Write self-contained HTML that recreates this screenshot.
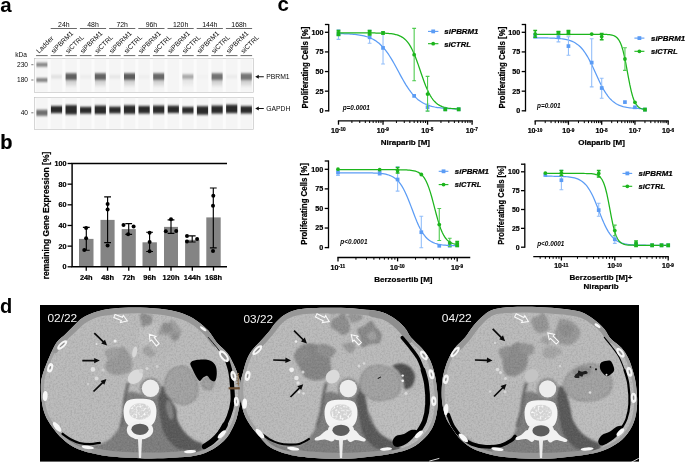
<!DOCTYPE html>
<html><head><meta charset="utf-8"><title>Figure</title>
<style>html,body{margin:0;padding:0;background:#fff;}svg{display:block;}.ct text{stroke:#000;stroke-width:0.22px;}</style></head>
<body><svg style="will-change:transform" width="685" height="463" viewBox="0 0 685 463">
<rect width="685" height="463" fill="#fff"/>
<defs>
<filter id="gb1" x="-5%" y="-20%" width="110%" height="140%"><feGaussianBlur stdDeviation="0.5 1.0"/></filter>
<filter id="gb2" x="-5%" y="-20%" width="110%" height="140%"><feGaussianBlur stdDeviation="0.5 0.95"/></filter>
<linearGradient id="smear" x1="0" y1="0" x2="0" y2="1"><stop offset="0" stop-color="#b5b5b5"/><stop offset="1" stop-color="#b5b5b5" stop-opacity="0"/></linearGradient>
</defs>
<defs>
<clipPath id="panelclip"><rect x="40" y="305" width="599" height="156.6"/></clipPath>
<filter id="ctb1" x="-5%" y="-5%" width="110%" height="110%"><feGaussianBlur stdDeviation="1.1"/></filter>
<filter id="ctb05" x="-5%" y="-5%" width="110%" height="110%"><feGaussianBlur stdDeviation="0.55"/></filter>
<filter id="ctb03" x="-5%" y="-5%" width="110%" height="110%"><feGaussianBlur stdDeviation="0.35"/></filter>
<filter id="ctnoise" x="0" y="0" width="100%" height="100%"><feTurbulence type="fractalNoise" baseFrequency="0.55" numOctaves="2" seed="4" result="n"/><feColorMatrix in="n" type="matrix" values="0 0 0 0 0  0 0 0 0 0  0 0 0 0 0  0.9 0 0 0 -0.36"/><feComposite in2="SourceGraphic" operator="in"/></filter>
<filter id="ctnoise2" x="0" y="0" width="100%" height="100%"><feTurbulence type="fractalNoise" baseFrequency="0.6" numOctaves="2" seed="11" result="n"/><feColorMatrix in="n" type="matrix" values="0 0 0 0 1  0 0 0 0 1  0 0 0 0 1  0.9 0 0 0 -0.36"/><feComposite in2="SourceGraphic" operator="in"/></filter>
<filter id="ctspeck" x="0" y="0" width="100%" height="100%"><feTurbulence type="fractalNoise" baseFrequency="0.5" numOctaves="1" seed="9" result="n"/><feColorMatrix in="n" type="matrix" values="0 0 0 0 1  0 0 0 0 1  0 0 0 0 1  3.2 0 0 0 -1.45"/><feComposite in2="SourceGraphic" operator="in"/></filter>
</defs>
<g id="pa" font-family="Liberation Sans, sans-serif" fill="#0a0a0a">
<text x="0.2" y="11.9" font-size="20.5" font-weight="bold" fill="#000">a</text>
<rect x="34.4" y="58.3" width="219" height="34" fill="#fbfbfb" stroke="#bdbdbd" stroke-width="0.6"/>
<rect x="36.1" y="58.699999999999996" width="11.6" height="33.2" fill="#f5f5f5"/>
<rect x="50.7" y="58.699999999999996" width="11.6" height="33.2" fill="#f5f5f5"/>
<rect x="65.3" y="58.699999999999996" width="11.6" height="33.2" fill="#f5f5f5"/>
<rect x="79.9" y="58.699999999999996" width="11.6" height="33.2" fill="#f5f5f5"/>
<rect x="94.5" y="58.699999999999996" width="11.6" height="33.2" fill="#f5f5f5"/>
<rect x="109.1" y="58.699999999999996" width="11.6" height="33.2" fill="#f5f5f5"/>
<rect x="123.7" y="58.699999999999996" width="11.6" height="33.2" fill="#f5f5f5"/>
<rect x="138.3" y="58.699999999999996" width="11.6" height="33.2" fill="#f5f5f5"/>
<rect x="152.9" y="58.699999999999996" width="11.6" height="33.2" fill="#f5f5f5"/>
<rect x="167.5" y="58.699999999999996" width="11.6" height="33.2" fill="#f5f5f5"/>
<rect x="182.1" y="58.699999999999996" width="11.6" height="33.2" fill="#f5f5f5"/>
<rect x="196.7" y="58.699999999999996" width="11.6" height="33.2" fill="#f5f5f5"/>
<rect x="211.3" y="58.699999999999996" width="11.6" height="33.2" fill="#f5f5f5"/>
<rect x="225.9" y="58.699999999999996" width="11.6" height="33.2" fill="#f5f5f5"/>
<rect x="240.5" y="58.699999999999996" width="11.6" height="33.2" fill="#f5f5f5"/>
<rect x="34.4" y="97.5" width="219" height="31.8" fill="#fbfbfb" stroke="#bdbdbd" stroke-width="0.6"/>
<rect x="36.1" y="97.9" width="11.6" height="31" fill="#f5f5f5"/>
<rect x="50.7" y="97.9" width="11.6" height="31" fill="#f5f5f5"/>
<rect x="65.3" y="97.9" width="11.6" height="31" fill="#f5f5f5"/>
<rect x="79.9" y="97.9" width="11.6" height="31" fill="#f5f5f5"/>
<rect x="94.5" y="97.9" width="11.6" height="31" fill="#f5f5f5"/>
<rect x="109.1" y="97.9" width="11.6" height="31" fill="#f5f5f5"/>
<rect x="123.7" y="97.9" width="11.6" height="31" fill="#f5f5f5"/>
<rect x="138.3" y="97.9" width="11.6" height="31" fill="#f5f5f5"/>
<rect x="152.9" y="97.9" width="11.6" height="31" fill="#f5f5f5"/>
<rect x="167.5" y="97.9" width="11.6" height="31" fill="#f5f5f5"/>
<rect x="182.1" y="97.9" width="11.6" height="31" fill="#f5f5f5"/>
<rect x="196.7" y="97.9" width="11.6" height="31" fill="#f5f5f5"/>
<rect x="211.3" y="97.9" width="11.6" height="31" fill="#f5f5f5"/>
<rect x="225.9" y="97.9" width="11.6" height="31" fill="#f5f5f5"/>
<rect x="240.5" y="97.9" width="11.6" height="31" fill="#f5f5f5"/>
<text x="63.8" y="26.6" font-size="6.9" text-anchor="middle">24h</text>
<line x1="50.7" y1="28.5" x2="76.9" y2="28.5" stroke="#2a2a2a" stroke-width="0.7"/>
<text x="93" y="26.6" font-size="6.9" text-anchor="middle">48h</text>
<line x1="79.9" y1="28.5" x2="106.1" y2="28.5" stroke="#2a2a2a" stroke-width="0.7"/>
<text x="122.2" y="26.6" font-size="6.9" text-anchor="middle">72h</text>
<line x1="109.1" y1="28.5" x2="135.3" y2="28.5" stroke="#2a2a2a" stroke-width="0.7"/>
<text x="151.4" y="26.6" font-size="6.9" text-anchor="middle">96h</text>
<line x1="138.3" y1="28.5" x2="164.5" y2="28.5" stroke="#2a2a2a" stroke-width="0.7"/>
<text x="180.6" y="26.6" font-size="6.9" text-anchor="middle">120h</text>
<line x1="167.5" y1="28.5" x2="193.7" y2="28.5" stroke="#2a2a2a" stroke-width="0.7"/>
<text x="209.8" y="26.6" font-size="6.9" text-anchor="middle">144h</text>
<line x1="196.7" y1="28.5" x2="222.9" y2="28.5" stroke="#2a2a2a" stroke-width="0.7"/>
<text x="239" y="26.6" font-size="6.9" text-anchor="middle">168h</text>
<line x1="225.9" y1="28.5" x2="252.1" y2="28.5" stroke="#2a2a2a" stroke-width="0.7"/>
<line x1="36.1" y1="55.6" x2="47.7" y2="55.6" stroke="#2a2a2a" stroke-width="0.7"/>
<text transform="translate(39.1,53.8) rotate(-45)" font-size="6.8">Ladder</text>
<line x1="50.7" y1="55.6" x2="62.3" y2="55.6" stroke="#2a2a2a" stroke-width="0.7"/>
<text transform="translate(53.7,53.8) rotate(-45)" font-size="6.8">siPBRM1</text>
<line x1="65.3" y1="55.6" x2="76.9" y2="55.6" stroke="#2a2a2a" stroke-width="0.7"/>
<text transform="translate(68.3,53.8) rotate(-45)" font-size="6.8">siCTRL</text>
<line x1="79.9" y1="55.6" x2="91.5" y2="55.6" stroke="#2a2a2a" stroke-width="0.7"/>
<text transform="translate(82.9,53.8) rotate(-45)" font-size="6.8">siPBRM1</text>
<line x1="94.5" y1="55.6" x2="106.1" y2="55.6" stroke="#2a2a2a" stroke-width="0.7"/>
<text transform="translate(97.5,53.8) rotate(-45)" font-size="6.8">siCTRL</text>
<line x1="109.1" y1="55.6" x2="120.7" y2="55.6" stroke="#2a2a2a" stroke-width="0.7"/>
<text transform="translate(112.1,53.8) rotate(-45)" font-size="6.8">siPBRM1</text>
<line x1="123.7" y1="55.6" x2="135.3" y2="55.6" stroke="#2a2a2a" stroke-width="0.7"/>
<text transform="translate(126.7,53.8) rotate(-45)" font-size="6.8">siCTRL</text>
<line x1="138.3" y1="55.6" x2="149.9" y2="55.6" stroke="#2a2a2a" stroke-width="0.7"/>
<text transform="translate(141.3,53.8) rotate(-45)" font-size="6.8">siPBRM1</text>
<line x1="152.9" y1="55.6" x2="164.5" y2="55.6" stroke="#2a2a2a" stroke-width="0.7"/>
<text transform="translate(155.9,53.8) rotate(-45)" font-size="6.8">siCTRL</text>
<line x1="167.5" y1="55.6" x2="179.1" y2="55.6" stroke="#2a2a2a" stroke-width="0.7"/>
<text transform="translate(170.5,53.8) rotate(-45)" font-size="6.8">siPBRM1</text>
<line x1="182.1" y1="55.6" x2="193.7" y2="55.6" stroke="#2a2a2a" stroke-width="0.7"/>
<text transform="translate(185.1,53.8) rotate(-45)" font-size="6.8">siCTRL</text>
<line x1="196.7" y1="55.6" x2="208.3" y2="55.6" stroke="#2a2a2a" stroke-width="0.7"/>
<text transform="translate(199.7,53.8) rotate(-45)" font-size="6.8">siPBRM1</text>
<line x1="211.3" y1="55.6" x2="222.9" y2="55.6" stroke="#2a2a2a" stroke-width="0.7"/>
<text transform="translate(214.3,53.8) rotate(-45)" font-size="6.8">siCTRL</text>
<line x1="225.9" y1="55.6" x2="237.5" y2="55.6" stroke="#2a2a2a" stroke-width="0.7"/>
<text transform="translate(228.9,53.8) rotate(-45)" font-size="6.8">siPBRM1</text>
<line x1="240.5" y1="55.6" x2="252.1" y2="55.6" stroke="#2a2a2a" stroke-width="0.7"/>
<text transform="translate(243.5,53.8) rotate(-45)" font-size="6.8">siCTRL</text>
<text x="15.3" y="56.8" font-size="6.6">kDa</text>
<text x="28.0" y="67.1" font-size="6.6" text-anchor="end">230</text>
<line x1="31.3" y1="64.7" x2="33.4" y2="64.7" stroke="#222" stroke-width="0.6"/>
<text x="28.0" y="82.4" font-size="6.6" text-anchor="end">180</text>
<line x1="31.3" y1="80.0" x2="33.4" y2="80.0" stroke="#222" stroke-width="0.6"/>
<text x="28.0" y="115.2" font-size="6.6" text-anchor="end">40</text>
<line x1="31.3" y1="112.8" x2="33.4" y2="112.8" stroke="#222" stroke-width="0.6"/>
<g filter="url(#gb1)">
<rect x="36.4" y="62.7" width="11.0" height="4" fill="#858585"/>
<rect x="36.4" y="78.0" width="11.0" height="4" fill="#858585"/>
<rect x="36.4" y="109.8" width="11.0" height="6" fill="#6e6e6e"/>
<rect x="51.2" y="74.9" width="10.6" height="3.6" fill="#e0e0e0"/>
<rect x="65.8" y="78" width="10.6" height="10" fill="url(#smear)" opacity="0.95"/>
<rect x="65.6" y="73.3" width="11.0" height="6.6" fill="#5e5e5e"/>
<rect x="80.4" y="74.9" width="10.6" height="3.6" fill="#ececec"/>
<rect x="95" y="78" width="10.6" height="10" fill="url(#smear)" opacity="0.95"/>
<rect x="94.8" y="73.3" width="11.0" height="6.6" fill="#626262"/>
<rect x="109.6" y="74.9" width="10.6" height="3.6" fill="#e6e6e6"/>
<rect x="124.2" y="78" width="10.6" height="10" fill="url(#smear)" opacity="0.95"/>
<rect x="124" y="73.3" width="11.0" height="6.6" fill="#5c5c5c"/>
<rect x="138.8" y="74.9" width="10.6" height="3.6" fill="#eeeeee"/>
<rect x="153.4" y="78" width="10.6" height="10" fill="url(#smear)" opacity="0.95"/>
<rect x="153.2" y="73.3" width="11.0" height="6.6" fill="#686868"/>
<rect x="182.6" y="78" width="10.6" height="10" fill="url(#smear)" opacity="0.35"/>
<rect x="182.4" y="74.4" width="11.0" height="4.4" fill="#a8a8a8"/>
<rect x="197.2" y="74.9" width="10.6" height="3.6" fill="#f1f1f1"/>
<rect x="211.8" y="78" width="10.6" height="10" fill="url(#smear)" opacity="0.95"/>
<rect x="211.6" y="73.3" width="11.0" height="6.6" fill="#727272"/>
<rect x="226.4" y="74.9" width="10.6" height="3.6" fill="#ebebeb"/>
<rect x="241" y="78" width="10.6" height="10" fill="url(#smear)" opacity="0.95"/>
<rect x="240.8" y="73.3" width="11.0" height="6.6" fill="#747474"/>
</g>
<g filter="url(#gb2)">
<rect x="50.9" y="106.02" width="11.2" height="7.08" fill="#2b2b2b"/>
<rect x="65.5" y="105.14" width="11.2" height="9.27" fill="#2b2b2b"/>
<rect x="80.1" y="106.89" width="11.2" height="6.64" fill="#2b2b2b"/>
<rect x="94.7" y="105.58" width="11.2" height="8.4" fill="#2b2b2b"/>
<rect x="109.3" y="106.67" width="11.2" height="6.64" fill="#2b2b2b"/>
<rect x="123.9" y="105.36" width="11.2" height="8.4" fill="#2b2b2b"/>
<rect x="138.5" y="106.02" width="11.2" height="7.52" fill="#2b2b2b"/>
<rect x="153.1" y="105.58" width="11.2" height="7.96" fill="#2b2b2b"/>
<rect x="167.7" y="105.69" width="11.2" height="7.3" fill="#2b2b2b"/>
<rect x="182.3" y="106.89" width="11.2" height="6.64" fill="#2b2b2b"/>
<rect x="196.9" y="106.24" width="11.2" height="8.4" fill="#2b2b2b"/>
<rect x="211.5" y="105.58" width="11.2" height="7.96" fill="#2b2b2b"/>
<rect x="226.1" y="104.7" width="11.2" height="8.4" fill="#2b2b2b"/>
<rect x="240.7" y="106.13" width="11.2" height="7.3" fill="#2b2b2b"/>
</g>
<path d="M255.2 76.7 l3.6 -2.0 v4.0 z M258 76.25 h5.8 v0.9 h-5.8z" fill="#111"/>
<text x="266.2" y="79.1" font-size="6.8">PBRM1</text>
<path d="M255.2 108.5 l3.6 -2.0 v4.0 z M258 108.05 h5.8 v0.9 h-5.8z" fill="#111"/>
<text x="266.2" y="110.9" font-size="6.8">GAPDH</text>
</g>
<g id="pb" class="ct" font-family="Liberation Sans, sans-serif" font-weight="bold" fill="#000">
<text x="0.3" y="149.3" font-size="20">b</text>
<rect x="79.0" y="238.9" width="14.5" height="27.9" fill="#848484"/>
<rect x="100.5" y="219.9" width="14.1" height="46.9" fill="#848484"/>
<rect x="121.7" y="229.1" width="14.1" height="37.7" fill="#848484"/>
<rect x="142.5" y="242.3" width="14.4" height="24.5" fill="#848484"/>
<rect x="164" y="226.9" width="14" height="39.9" fill="#848484"/>
<rect x="185.1" y="239.8" width="14.4" height="27" fill="#848484"/>
<rect x="206.3" y="217.4" width="14.4" height="49.4" fill="#848484"/>
<path d="M86.3 227.3 V250.2 M82.89999999999999 227.3 h6.8 M82.89999999999999 250.2 h6.8" stroke="#000" stroke-width="1.15" fill="none"/>
<path d="M107.6 196.9 V242.6 M104.19999999999999 196.9 h6.8 M104.19999999999999 242.6 h6.8" stroke="#000" stroke-width="1.15" fill="none"/>
<path d="M128.7 223.6 V234.3 M125.29999999999998 223.6 h6.8 M125.29999999999998 234.3 h6.8" stroke="#000" stroke-width="1.15" fill="none"/>
<path d="M149.6 232.2 V251.5 M146.2 232.2 h6.8 M146.2 251.5 h6.8" stroke="#000" stroke-width="1.15" fill="none"/>
<path d="M171 219.9 V233.4 M167.6 219.9 h6.8 M167.6 233.4 h6.8" stroke="#000" stroke-width="1.15" fill="none"/>
<path d="M192.2 235.8 V242 M188.79999999999998 235.8 h6.8 M188.79999999999998 242 h6.8" stroke="#000" stroke-width="1.15" fill="none"/>
<path d="M213.3 188 V247.8 M209.9 188 h6.8 M209.9 247.8 h6.8" stroke="#000" stroke-width="1.15" fill="none"/>
<circle cx="86.1" cy="227.9" r="2.0"/>
<circle cx="86.1" cy="238.3" r="2.0"/>
<circle cx="84.3" cy="249.9" r="2.0"/>
<circle cx="107.6" cy="204" r="2.0"/>
<circle cx="107.6" cy="209.5" r="2.0"/>
<circle cx="107.6" cy="245.6" r="2.0"/>
<circle cx="123.5" cy="225.1" r="2.0"/>
<circle cx="133.6" cy="226.6" r="2.0"/>
<circle cx="128.1" cy="234.3" r="2.0"/>
<circle cx="149.6" cy="232.8" r="2.0"/>
<circle cx="149.6" cy="242" r="2.0"/>
<circle cx="149.6" cy="251.2" r="2.0"/>
<circle cx="171" cy="219.3" r="2.0"/>
<circle cx="165.8" cy="231.2" r="2.0"/>
<circle cx="176.2" cy="230.9" r="2.0"/>
<circle cx="187" cy="236.1" r="2.0"/>
<circle cx="197.1" cy="238.9" r="2.0"/>
<circle cx="187" cy="241.4" r="2.0"/>
<circle cx="213.3" cy="195.7" r="2.0"/>
<circle cx="213" cy="205.8" r="2.0"/>
<circle cx="213" cy="250.9" r="2.0"/>
<path d="M72.1 163.5 H227 M72.1 162.8 V267.5 M71.4 266.8 H227" stroke="#000" stroke-width="1.45" fill="none"/>
<line x1="86.25" x2="86.25" y1="266.8" y2="270.7" stroke="#000" stroke-width="1.3"/>
<line x1="107.55" x2="107.55" y1="266.8" y2="270.7" stroke="#000" stroke-width="1.3"/>
<line x1="128.75" x2="128.75" y1="266.8" y2="270.7" stroke="#000" stroke-width="1.3"/>
<line x1="149.7" x2="149.7" y1="266.8" y2="270.7" stroke="#000" stroke-width="1.3"/>
<line x1="171" x2="171" y1="266.8" y2="270.7" stroke="#000" stroke-width="1.3"/>
<line x1="192.3" x2="192.3" y1="266.8" y2="270.7" stroke="#000" stroke-width="1.3"/>
<line x1="213.5" x2="213.5" y1="266.8" y2="270.7" stroke="#000" stroke-width="1.3"/>
<line x1="67.6" x2="72" y1="266.8" y2="266.8" stroke="#000" stroke-width="1.3"/>
<text x="66.5" y="269.35" font-size="7.2" text-anchor="end">0</text>
<line x1="67.6" x2="72" y1="246.14" y2="246.14" stroke="#000" stroke-width="1.3"/>
<text x="66.5" y="248.69" font-size="7.2" text-anchor="end">20</text>
<line x1="67.6" x2="72" y1="225.48" y2="225.48" stroke="#000" stroke-width="1.3"/>
<text x="66.5" y="228.03" font-size="7.2" text-anchor="end">40</text>
<line x1="67.6" x2="72" y1="204.82" y2="204.82" stroke="#000" stroke-width="1.3"/>
<text x="66.5" y="207.37" font-size="7.2" text-anchor="end">60</text>
<line x1="67.6" x2="72" y1="184.16" y2="184.16" stroke="#000" stroke-width="1.3"/>
<text x="66.5" y="186.71" font-size="7.2" text-anchor="end">80</text>
<line x1="67.6" x2="72" y1="163.5" y2="163.5" stroke="#000" stroke-width="1.3"/>
<text x="66.5" y="166.05" font-size="7.2" text-anchor="end">100</text>
<text x="86.25" y="279.7" font-size="7.4" text-anchor="middle">24h</text>
<text x="107.55" y="279.7" font-size="7.4" text-anchor="middle">48h</text>
<text x="128.75" y="279.7" font-size="7.4" text-anchor="middle">72h</text>
<text x="149.7" y="279.7" font-size="7.4" text-anchor="middle">96h</text>
<text x="171" y="279.7" font-size="7.4" text-anchor="middle">120h</text>
<text x="192.3" y="279.7" font-size="7.4" text-anchor="middle">144h</text>
<text x="213.5" y="279.7" font-size="7.4" text-anchor="middle">168h</text>
<text transform="translate(48.9,215.5) rotate(-90)" font-size="8.3" text-anchor="middle" textLength="127.5" lengthAdjust="spacingAndGlyphs">remaining Gene Expression [%]</text>
</g>
<g id="pc">
<text x="277.6" y="11.4" font-family="Liberation Sans, sans-serif" font-weight="bold" font-size="20.5">c</text>
<g class="ct" font-family="Liberation Sans, sans-serif" font-weight="bold" fill="#000">
<path d="M338.5 33.61 L340 33.65 L341.5 33.68 L343.01 33.73 L344.51 33.78 L346.01 33.84 L347.51 33.91 L349.02 33.99 L350.52 34.09 L352.02 34.19 L353.52 34.32 L355.03 34.46 L356.53 34.63 L358.03 34.82 L359.53 35.04 L361.03 35.3 L362.54 35.59 L364.04 35.93 L365.54 36.32 L367.04 36.76 L368.55 37.27 L370.05 37.85 L371.55 38.51 L373.05 39.26 L374.56 40.1 L376.06 41.06 L377.56 42.14 L379.06 43.35 L380.56 44.7 L382.07 46.19 L383.57 47.83 L385.07 49.64 L386.57 51.6 L388.08 53.72 L389.58 55.98 L391.08 58.39 L392.58 60.92 L394.09 63.55 L395.59 66.26 L397.09 69.03 L398.59 71.82 L400.09 74.6 L401.6 77.35 L403.1 80.03 L404.6 82.63 L406.1 85.11 L407.61 87.45 L409.11 89.66 L410.61 91.71 L412.11 93.61 L413.62 95.35 L415.12 96.93 L416.62 98.36 L418.12 99.64 L419.62 100.8 L421.13 101.82 L422.63 102.74 L424.13 103.54 L425.63 104.25 L427.14 104.88 L428.64 105.42 L430.14 105.9 L431.64 106.32 L433.15 106.69 L434.65 107.01 L436.15 107.28 L437.65 107.52 L439.16 107.73 L440.66 107.91 L442.16 108.07 L443.66 108.21 L445.16 108.32 L446.67 108.43 L448.17 108.51 L449.67 108.59 L451.17 108.66 L452.68 108.71 L454.18 108.76 L455.68 108.8 L457.18 108.84 L458.69 108.87" stroke="#5b9cf5" stroke-width="1.25" fill="none"/>
<path d="M338.5 32.93 L340 32.93 L341.5 32.93 L343.01 32.93 L344.51 32.93 L346.01 32.93 L347.51 32.93 L349.02 32.93 L350.52 32.93 L352.02 32.93 L353.52 32.93 L355.03 32.93 L356.53 32.93 L358.03 32.93 L359.53 32.93 L361.03 32.94 L362.54 32.94 L364.04 32.94 L365.54 32.94 L367.04 32.95 L368.55 32.95 L370.05 32.96 L371.55 32.97 L373.05 32.98 L374.56 32.99 L376.06 33.01 L377.56 33.03 L379.06 33.05 L380.56 33.09 L382.07 33.13 L383.57 33.18 L385.07 33.24 L386.57 33.33 L388.08 33.43 L389.58 33.56 L391.08 33.73 L392.58 33.93 L394.09 34.19 L395.59 34.52 L397.09 34.93 L398.59 35.43 L400.09 36.06 L401.6 36.85 L403.1 37.81 L404.6 38.99 L406.1 40.42 L407.61 42.15 L409.11 44.21 L410.61 46.64 L412.11 49.45 L413.62 52.67 L415.12 56.26 L416.62 60.19 L418.12 64.39 L419.62 68.76 L421.13 73.19 L422.63 77.57 L424.13 81.77 L425.63 85.7 L427.14 89.3 L428.64 92.51 L430.14 95.34 L431.64 97.77 L433.15 99.83 L434.65 101.56 L436.15 103 L437.65 104.18 L439.16 105.15 L440.66 105.93 L442.16 106.56 L443.66 107.07 L445.16 107.48 L446.67 107.8 L448.17 108.06 L449.67 108.27 L451.17 108.44 L452.68 108.57 L454.18 108.67 L455.68 108.76 L457.18 108.82 L458.69 108.87" stroke="#1cb51c" stroke-width="1.25" fill="none"/>
<path d="M338.5 29.9 V39.4 M336.6 29.9 h3.8 M336.6 39.4 h3.8" stroke="#94bffa" stroke-width="1.1" fill="none"/>
<path d="M369.63 30.4 V43.3 M367.73 30.4 h3.8 M367.73 43.3 h3.8" stroke="#94bffa" stroke-width="1.1" fill="none"/>
<path d="M383.03 31.8 V64 M381.13 31.8 h3.8 M381.13 64 h3.8" stroke="#94bffa" stroke-width="1.1" fill="none"/>
<path d="M427.56 104 V111 M425.66 104 h3.8 M425.66 111 h3.8" stroke="#94bffa" stroke-width="1.1" fill="none"/>
<rect x="336.65" y="32.25" width="3.7" height="3.7" fill="#5b9cf5"/>
<rect x="367.78" y="35.45" width="3.7" height="3.7" fill="#5b9cf5"/>
<rect x="381.18" y="46.05" width="3.7" height="3.7" fill="#5b9cf5"/>
<rect x="412.31" y="94.05" width="3.7" height="3.7" fill="#5b9cf5"/>
<rect x="425.71" y="105.45" width="3.7" height="3.7" fill="#5b9cf5"/>
<rect x="443.43" y="107.45" width="3.7" height="3.7" fill="#5b9cf5"/>
<rect x="456.84" y="107.45" width="3.7" height="3.7" fill="#5b9cf5"/>
<path d="M338.5 30.5 V35.5 M336.6 30.5 h3.8 M336.6 35.5 h3.8" stroke="#1cb51c" stroke-width="1.5" fill="none"/>
<path d="M369.63 30.5 V35 M367.73 30.5 h3.8 M367.73 35 h3.8" stroke="#1cb51c" stroke-width="1.5" fill="none"/>
<path d="M414.16 28.4 V80.8 M412.26 28.4 h3.8 M412.26 80.8 h3.8" stroke="#4fcb4f" stroke-width="1.1" fill="none"/>
<path d="M427.56 76.4 V111.1 M425.66 76.4 h3.8 M425.66 111.1 h3.8" stroke="#4fcb4f" stroke-width="1.1" fill="none"/>
<rect x="336.65" y="31.15" width="3.7" height="3.9" fill="#1cb51c"/>
<rect x="367.78" y="30.85" width="3.7" height="3.9" fill="#1cb51c"/>
<rect x="381.18" y="31.05" width="3.7" height="3.9" fill="#1cb51c"/>
<circle cx="414.16" cy="54.7" r="1.9" fill="#1cb51c"/>
<circle cx="427.56" cy="94.1" r="1.9" fill="#1cb51c"/>
<rect x="443.43" y="107.35" width="3.7" height="3.9" fill="#1cb51c"/>
<rect x="456.84" y="107.35" width="3.7" height="3.9" fill="#1cb51c"/>
<path d="M328.7 23.9 V111.45" stroke="#000" stroke-width="1.3" fill="none"/>
<line x1="324.9" x2="328.7" y1="24.5" y2="24.5" stroke="#000" stroke-width="1.3"/>
<line x1="324.9" x2="328.7" y1="110.8" y2="110.8" stroke="#000" stroke-width="1.3"/>
<text x="323.5" y="113.2" font-size="7.2" text-anchor="end">0</text>
<line x1="324.9" x2="328.7" y1="91.17" y2="91.17" stroke="#000" stroke-width="1.3"/>
<text x="323.5" y="93.58" font-size="7.2" text-anchor="end">25</text>
<line x1="324.9" x2="328.7" y1="71.55" y2="71.55" stroke="#000" stroke-width="1.3"/>
<text x="323.5" y="73.95" font-size="7.2" text-anchor="end">50</text>
<line x1="324.9" x2="328.7" y1="51.92" y2="51.92" stroke="#000" stroke-width="1.3"/>
<text x="323.5" y="54.32" font-size="7.2" text-anchor="end">75</text>
<line x1="324.9" x2="328.7" y1="32.3" y2="32.3" stroke="#000" stroke-width="1.3"/>
<text x="323.5" y="34.7" font-size="7.2" text-anchor="end">100</text>
<line x1="337.85" x2="472.75" y1="120.8" y2="120.8" stroke="#000" stroke-width="1.3"/>
<line x1="338.5" x2="338.5" y1="120.8" y2="124.7" stroke="#000" stroke-width="1.3"/>
<text x="338.3" y="133.1" font-size="7.1" text-anchor="middle">10<tspan dy="-1.7" font-size="4.7">-10</tspan></text>
<line x1="351.9" x2="351.9" y1="120.8" y2="123.0" stroke="#000" stroke-width="1.0"/>
<line x1="359.75" x2="359.75" y1="120.8" y2="123.0" stroke="#000" stroke-width="1.0"/>
<line x1="365.31" x2="365.31" y1="120.8" y2="123.0" stroke="#000" stroke-width="1.0"/>
<line x1="369.63" x2="369.63" y1="120.8" y2="123.0" stroke="#000" stroke-width="1.0"/>
<line x1="373.15" x2="373.15" y1="120.8" y2="123.0" stroke="#000" stroke-width="1.0"/>
<line x1="376.13" x2="376.13" y1="120.8" y2="123.0" stroke="#000" stroke-width="1.0"/>
<line x1="378.71" x2="378.71" y1="120.8" y2="123.0" stroke="#000" stroke-width="1.0"/>
<line x1="380.99" x2="380.99" y1="120.8" y2="123.0" stroke="#000" stroke-width="1.0"/>
<line x1="383.03" x2="383.03" y1="120.8" y2="124.7" stroke="#000" stroke-width="1.3"/>
<text x="382.83" y="133.1" font-size="7.1" text-anchor="middle">10<tspan dy="-1.7" font-size="4.7">-9</tspan></text>
<line x1="396.43" x2="396.43" y1="120.8" y2="123.0" stroke="#000" stroke-width="1.0"/>
<line x1="404.28" x2="404.28" y1="120.8" y2="123.0" stroke="#000" stroke-width="1.0"/>
<line x1="409.84" x2="409.84" y1="120.8" y2="123.0" stroke="#000" stroke-width="1.0"/>
<line x1="414.16" x2="414.16" y1="120.8" y2="123.0" stroke="#000" stroke-width="1.0"/>
<line x1="417.68" x2="417.68" y1="120.8" y2="123.0" stroke="#000" stroke-width="1.0"/>
<line x1="420.66" x2="420.66" y1="120.8" y2="123.0" stroke="#000" stroke-width="1.0"/>
<line x1="423.24" x2="423.24" y1="120.8" y2="123.0" stroke="#000" stroke-width="1.0"/>
<line x1="425.52" x2="425.52" y1="120.8" y2="123.0" stroke="#000" stroke-width="1.0"/>
<line x1="427.56" x2="427.56" y1="120.8" y2="124.7" stroke="#000" stroke-width="1.3"/>
<text x="427.36" y="133.1" font-size="7.1" text-anchor="middle">10<tspan dy="-1.7" font-size="4.7">-8</tspan></text>
<line x1="440.96" x2="440.96" y1="120.8" y2="123.0" stroke="#000" stroke-width="1.0"/>
<line x1="448.81" x2="448.81" y1="120.8" y2="123.0" stroke="#000" stroke-width="1.0"/>
<line x1="454.37" x2="454.37" y1="120.8" y2="123.0" stroke="#000" stroke-width="1.0"/>
<line x1="458.69" x2="458.69" y1="120.8" y2="123.0" stroke="#000" stroke-width="1.0"/>
<line x1="462.21" x2="462.21" y1="120.8" y2="123.0" stroke="#000" stroke-width="1.0"/>
<line x1="465.19" x2="465.19" y1="120.8" y2="123.0" stroke="#000" stroke-width="1.0"/>
<line x1="467.77" x2="467.77" y1="120.8" y2="123.0" stroke="#000" stroke-width="1.0"/>
<line x1="470.05" x2="470.05" y1="120.8" y2="123.0" stroke="#000" stroke-width="1.0"/>
<line x1="472.09" x2="472.09" y1="120.8" y2="124.7" stroke="#000" stroke-width="1.3"/>
<text x="471.89" y="133.1" font-size="7.1" text-anchor="middle">10<tspan dy="-1.7" font-size="4.7">-7</tspan></text>
<text x="405.3" y="145.3" font-size="8" text-anchor="middle">Niraparib [M]</text>
<text transform="translate(307.5,67.6) rotate(-90)" font-size="8.4" text-anchor="middle" textLength="81.7" lengthAdjust="spacingAndGlyphs">Proliferating Cells [%]</text>
<line x1="428.0" x2="438.4" y1="31.4" y2="31.4" stroke="#5b9cf5" stroke-width="1.1"/>
<rect x="431.3" y="29.5" width="3.8" height="3.8" fill="#5b9cf5"/>
<text x="444.3" y="34" font-size="7.7" font-style="italic" textLength="34.2" lengthAdjust="spacingAndGlyphs">siPBRM1</text>
<line x1="428.0" x2="438.4" y1="43.7" y2="43.7" stroke="#1cb51c" stroke-width="1.1"/>
<circle cx="433.2" cy="43.7" r="1.9" fill="#1cb51c"/>
<text x="444.3" y="46.5" font-size="7.7" font-style="italic" textLength="26.5" lengthAdjust="spacingAndGlyphs">siCTRL</text>
<text x="342.7" y="109.8" font-size="6.4" font-style="italic" style="stroke:none">p=0.0001</text>
</g>
<g class="ct" font-family="Liberation Sans, sans-serif" font-weight="bold" fill="#000">
<path d="M535.2 37.83 L536.57 37.84 L537.94 37.85 L539.32 37.86 L540.69 37.87 L542.06 37.88 L543.43 37.9 L544.8 37.92 L546.18 37.94 L547.55 37.97 L548.92 38 L550.29 38.04 L551.66 38.09 L553.04 38.14 L554.41 38.21 L555.78 38.28 L557.15 38.37 L558.52 38.48 L559.9 38.6 L561.27 38.75 L562.64 38.93 L564.01 39.14 L565.38 39.38 L566.76 39.67 L568.13 40.01 L569.5 40.41 L570.87 40.87 L572.24 41.42 L573.62 42.05 L574.99 42.79 L576.36 43.65 L577.73 44.63 L579.1 45.76 L580.48 47.06 L581.85 48.52 L583.22 50.18 L584.59 52.02 L585.96 54.07 L587.34 56.31 L588.71 58.75 L590.08 61.36 L591.45 64.12 L592.82 67.02 L594.2 70 L595.57 73.02 L596.94 76.06 L598.31 79.05 L599.68 81.96 L601.06 84.75 L602.43 87.4 L603.8 89.87 L605.17 92.15 L606.54 94.23 L607.92 96.12 L609.29 97.81 L610.66 99.31 L612.03 100.63 L613.4 101.79 L614.78 102.81 L616.15 103.69 L617.52 104.45 L618.89 105.1 L620.26 105.66 L621.64 106.14 L623.01 106.55 L624.38 106.9 L625.75 107.2 L627.12 107.45 L628.5 107.67 L629.87 107.85 L631.24 108 L632.61 108.13 L633.98 108.24 L635.36 108.33 L636.73 108.41 L638.1 108.48 L639.47 108.54 L640.84 108.58 L642.22 108.62 L643.59 108.66 L644.96 108.68" stroke="#5b9cf5" stroke-width="1.25" fill="none"/>
<path d="M535.2 34.26 L536.57 34.26 L537.94 34.26 L539.32 34.26 L540.69 34.26 L542.06 34.26 L543.43 34.26 L544.8 34.26 L546.18 34.26 L547.55 34.26 L548.92 34.26 L550.29 34.26 L551.66 34.26 L553.04 34.26 L554.41 34.26 L555.78 34.26 L557.15 34.26 L558.52 34.26 L559.9 34.26 L561.27 34.26 L562.64 34.26 L564.01 34.26 L565.38 34.26 L566.76 34.26 L568.13 34.26 L569.5 34.26 L570.87 34.26 L572.24 34.26 L573.62 34.26 L574.99 34.26 L576.36 34.26 L577.73 34.26 L579.1 34.26 L580.48 34.26 L581.85 34.26 L583.22 34.26 L584.59 34.26 L585.96 34.26 L587.34 34.26 L588.71 34.26 L590.08 34.26 L591.45 34.26 L592.82 34.27 L594.2 34.27 L595.57 34.27 L596.94 34.27 L598.31 34.28 L599.68 34.29 L601.06 34.3 L602.43 34.31 L603.8 34.34 L605.17 34.38 L606.54 34.44 L607.92 34.52 L609.29 34.65 L610.66 34.83 L612.03 35.11 L613.4 35.51 L614.78 36.11 L616.15 36.99 L617.52 38.25 L618.89 40.06 L620.26 42.59 L621.64 46.04 L623.01 50.58 L624.38 56.25 L625.75 62.95 L627.12 70.33 L628.5 77.84 L629.87 84.92 L631.24 91.12 L632.61 96.2 L633.98 100.15 L635.36 103.1 L636.73 105.23 L638.1 106.74 L639.47 107.79 L640.84 108.5 L642.22 108.99 L643.59 109.33 L644.96 109.55" stroke="#1cb51c" stroke-width="1.25" fill="none"/>
<path d="M535.2 33.4 V38.4 M533.3 33.4 h3.8 M533.3 38.4 h3.8" stroke="#94bffa" stroke-width="1.1" fill="none"/>
<path d="M558.44 33.2 V41.9 M556.54 33.2 h3.8 M556.54 41.9 h3.8" stroke="#94bffa" stroke-width="1.1" fill="none"/>
<path d="M568.45 36.7 V55.3 M566.55 36.7 h3.8 M566.55 55.3 h3.8" stroke="#94bffa" stroke-width="1.1" fill="none"/>
<path d="M591.69 38.8 V86.9 M589.79 38.8 h3.8 M589.79 86.9 h3.8" stroke="#94bffa" stroke-width="1.1" fill="none"/>
<path d="M601.7 78.3 V98.2 M599.8 78.3 h3.8 M599.8 98.2 h3.8" stroke="#94bffa" stroke-width="1.1" fill="none"/>
<rect x="533.35" y="33.95" width="3.7" height="3.7" fill="#5b9cf5"/>
<rect x="556.59" y="35.45" width="3.7" height="3.7" fill="#5b9cf5"/>
<rect x="566.6" y="44.25" width="3.7" height="3.7" fill="#5b9cf5"/>
<rect x="589.84" y="60.75" width="3.7" height="3.7" fill="#5b9cf5"/>
<rect x="599.85" y="86.15" width="3.7" height="3.7" fill="#5b9cf5"/>
<rect x="623.09" y="100.25" width="3.7" height="3.7" fill="#5b9cf5"/>
<rect x="633.1" y="105.45" width="3.7" height="3.7" fill="#5b9cf5"/>
<rect x="643.11" y="107.75" width="3.7" height="3.7" fill="#5b9cf5"/>
<path d="M535.2 30.5 V37.3 M533.3 30.5 h3.8 M533.3 37.3 h3.8" stroke="#1cb51c" stroke-width="1.5" fill="none"/>
<path d="M558.44 31.4 V34.6 M556.54 31.4 h3.8 M556.54 34.6 h3.8" stroke="#1cb51c" stroke-width="1.5" fill="none"/>
<path d="M568.45 30.6 V34.6 M566.55 30.6 h3.8 M566.55 34.6 h3.8" stroke="#1cb51c" stroke-width="1.5" fill="none"/>
<path d="M601.7 33.6 V39.7 M599.8 33.6 h3.8 M599.8 39.7 h3.8" stroke="#1cb51c" stroke-width="1.5" fill="none"/>
<path d="M624.94 47.7 V70.4 M623.04 47.7 h3.8 M623.04 70.4 h3.8" stroke="#4fcb4f" stroke-width="1.1" fill="none"/>
<circle cx="535.2" cy="34.1" r="1.9" fill="#1cb51c"/>
<rect x="556.59" y="31.05" width="3.7" height="3.9" fill="#1cb51c"/>
<rect x="566.6" y="30.55" width="3.7" height="3.9" fill="#1cb51c"/>
<circle cx="591.69" cy="34.1" r="1.9" fill="#1cb51c"/>
<circle cx="601.7" cy="36.6" r="1.9" fill="#1cb51c"/>
<circle cx="624.94" cy="59" r="1.9" fill="#1cb51c"/>
<circle cx="634.95" cy="102.3" r="1.9" fill="#1cb51c"/>
<rect x="643.11" y="107.65" width="3.7" height="3.9" fill="#1cb51c"/>
<path d="M525.5 23.9 V111.45" stroke="#000" stroke-width="1.3" fill="none"/>
<line x1="521.7" x2="525.5" y1="24.5" y2="24.5" stroke="#000" stroke-width="1.3"/>
<line x1="521.7" x2="525.5" y1="110.8" y2="110.8" stroke="#000" stroke-width="1.3"/>
<text x="520.3" y="113.2" font-size="7.2" text-anchor="end">0</text>
<line x1="521.7" x2="525.5" y1="91.17" y2="91.17" stroke="#000" stroke-width="1.3"/>
<text x="520.3" y="93.58" font-size="7.2" text-anchor="end">25</text>
<line x1="521.7" x2="525.5" y1="71.55" y2="71.55" stroke="#000" stroke-width="1.3"/>
<text x="520.3" y="73.95" font-size="7.2" text-anchor="end">50</text>
<line x1="521.7" x2="525.5" y1="51.92" y2="51.92" stroke="#000" stroke-width="1.3"/>
<text x="520.3" y="54.32" font-size="7.2" text-anchor="end">75</text>
<line x1="521.7" x2="525.5" y1="32.3" y2="32.3" stroke="#000" stroke-width="1.3"/>
<text x="520.3" y="34.7" font-size="7.2" text-anchor="end">100</text>
<line x1="534.55" x2="668.85" y1="120.9" y2="120.9" stroke="#000" stroke-width="1.3"/>
<line x1="535.2" x2="535.2" y1="120.9" y2="124.80000000000001" stroke="#000" stroke-width="1.3"/>
<text x="535" y="133.2" font-size="7.1" text-anchor="middle">10<tspan dy="-1.7" font-size="4.7">-10</tspan></text>
<line x1="545.21" x2="545.21" y1="120.9" y2="123.10000000000001" stroke="#000" stroke-width="1.0"/>
<line x1="551.06" x2="551.06" y1="120.9" y2="123.10000000000001" stroke="#000" stroke-width="1.0"/>
<line x1="555.22" x2="555.22" y1="120.9" y2="123.10000000000001" stroke="#000" stroke-width="1.0"/>
<line x1="558.44" x2="558.44" y1="120.9" y2="123.10000000000001" stroke="#000" stroke-width="1.0"/>
<line x1="561.07" x2="561.07" y1="120.9" y2="123.10000000000001" stroke="#000" stroke-width="1.0"/>
<line x1="563.3" x2="563.3" y1="120.9" y2="123.10000000000001" stroke="#000" stroke-width="1.0"/>
<line x1="565.23" x2="565.23" y1="120.9" y2="123.10000000000001" stroke="#000" stroke-width="1.0"/>
<line x1="566.93" x2="566.93" y1="120.9" y2="123.10000000000001" stroke="#000" stroke-width="1.0"/>
<line x1="568.45" x2="568.45" y1="120.9" y2="124.80000000000001" stroke="#000" stroke-width="1.3"/>
<text x="568.25" y="133.2" font-size="7.1" text-anchor="middle">10<tspan dy="-1.7" font-size="4.7">-9</tspan></text>
<line x1="578.46" x2="578.46" y1="120.9" y2="123.10000000000001" stroke="#000" stroke-width="1.0"/>
<line x1="584.31" x2="584.31" y1="120.9" y2="123.10000000000001" stroke="#000" stroke-width="1.0"/>
<line x1="588.47" x2="588.47" y1="120.9" y2="123.10000000000001" stroke="#000" stroke-width="1.0"/>
<line x1="591.69" x2="591.69" y1="120.9" y2="123.10000000000001" stroke="#000" stroke-width="1.0"/>
<line x1="594.32" x2="594.32" y1="120.9" y2="123.10000000000001" stroke="#000" stroke-width="1.0"/>
<line x1="596.55" x2="596.55" y1="120.9" y2="123.10000000000001" stroke="#000" stroke-width="1.0"/>
<line x1="598.48" x2="598.48" y1="120.9" y2="123.10000000000001" stroke="#000" stroke-width="1.0"/>
<line x1="600.18" x2="600.18" y1="120.9" y2="123.10000000000001" stroke="#000" stroke-width="1.0"/>
<line x1="601.7" x2="601.7" y1="120.9" y2="124.80000000000001" stroke="#000" stroke-width="1.3"/>
<text x="601.5" y="133.2" font-size="7.1" text-anchor="middle">10<tspan dy="-1.7" font-size="4.7">-8</tspan></text>
<line x1="611.71" x2="611.71" y1="120.9" y2="123.10000000000001" stroke="#000" stroke-width="1.0"/>
<line x1="617.56" x2="617.56" y1="120.9" y2="123.10000000000001" stroke="#000" stroke-width="1.0"/>
<line x1="621.72" x2="621.72" y1="120.9" y2="123.10000000000001" stroke="#000" stroke-width="1.0"/>
<line x1="624.94" x2="624.94" y1="120.9" y2="123.10000000000001" stroke="#000" stroke-width="1.0"/>
<line x1="627.57" x2="627.57" y1="120.9" y2="123.10000000000001" stroke="#000" stroke-width="1.0"/>
<line x1="629.8" x2="629.8" y1="120.9" y2="123.10000000000001" stroke="#000" stroke-width="1.0"/>
<line x1="631.73" x2="631.73" y1="120.9" y2="123.10000000000001" stroke="#000" stroke-width="1.0"/>
<line x1="633.43" x2="633.43" y1="120.9" y2="123.10000000000001" stroke="#000" stroke-width="1.0"/>
<line x1="634.95" x2="634.95" y1="120.9" y2="124.80000000000001" stroke="#000" stroke-width="1.3"/>
<text x="634.75" y="133.2" font-size="7.1" text-anchor="middle">10<tspan dy="-1.7" font-size="4.7">-7</tspan></text>
<line x1="644.96" x2="644.96" y1="120.9" y2="123.10000000000001" stroke="#000" stroke-width="1.0"/>
<line x1="650.81" x2="650.81" y1="120.9" y2="123.10000000000001" stroke="#000" stroke-width="1.0"/>
<line x1="654.97" x2="654.97" y1="120.9" y2="123.10000000000001" stroke="#000" stroke-width="1.0"/>
<line x1="658.19" x2="658.19" y1="120.9" y2="123.10000000000001" stroke="#000" stroke-width="1.0"/>
<line x1="660.82" x2="660.82" y1="120.9" y2="123.10000000000001" stroke="#000" stroke-width="1.0"/>
<line x1="663.05" x2="663.05" y1="120.9" y2="123.10000000000001" stroke="#000" stroke-width="1.0"/>
<line x1="664.98" x2="664.98" y1="120.9" y2="123.10000000000001" stroke="#000" stroke-width="1.0"/>
<line x1="666.68" x2="666.68" y1="120.9" y2="123.10000000000001" stroke="#000" stroke-width="1.0"/>
<line x1="668.2" x2="668.2" y1="120.9" y2="124.80000000000001" stroke="#000" stroke-width="1.3"/>
<text x="668" y="133.2" font-size="7.1" text-anchor="middle">10<tspan dy="-1.7" font-size="4.7">-6</tspan></text>
<text x="601.6" y="145.3" font-size="8" text-anchor="middle">Olaparib [M]</text>
<text transform="translate(504.5,67.6) rotate(-90)" font-size="8.4" text-anchor="middle" textLength="81.7" lengthAdjust="spacingAndGlyphs">Proliferating Cells [%]</text>
<line x1="634.4" x2="644.4" y1="38.1" y2="38.1" stroke="#5b9cf5" stroke-width="1.1"/>
<rect x="637.5" y="36.2" width="3.8" height="3.8" fill="#5b9cf5"/>
<text x="651.0" y="40.7" font-size="7.7" font-style="italic" textLength="34.2" lengthAdjust="spacingAndGlyphs">siPBRM1</text>
<line x1="634.4" x2="644.4" y1="51.3" y2="51.3" stroke="#1cb51c" stroke-width="1.1"/>
<circle cx="639.4" cy="51.3" r="1.9" fill="#1cb51c"/>
<text x="651.0" y="54.1" font-size="7.7" font-style="italic" textLength="26.5" lengthAdjust="spacingAndGlyphs">siCTRL</text>
<text x="537" y="107.7" font-size="6.4" font-style="italic" style="stroke:none">p=0.001</text>
</g>
<g class="ct" font-family="Liberation Sans, sans-serif" font-weight="bold" fill="#000">
<path d="M338 172.75 L339.49 172.75 L340.98 172.75 L342.47 172.75 L343.96 172.75 L345.45 172.75 L346.94 172.75 L348.43 172.75 L349.92 172.75 L351.41 172.76 L352.9 172.76 L354.39 172.76 L355.88 172.76 L357.37 172.77 L358.86 172.77 L360.35 172.78 L361.84 172.79 L363.33 172.8 L364.82 172.82 L366.31 172.83 L367.8 172.85 L369.29 172.88 L370.78 172.91 L372.27 172.96 L373.76 173.01 L375.25 173.07 L376.74 173.15 L378.23 173.25 L379.72 173.37 L381.21 173.52 L382.7 173.71 L384.19 173.94 L385.68 174.23 L387.17 174.58 L388.66 175.01 L390.15 175.55 L391.64 176.2 L393.13 177 L394.62 177.96 L396.11 179.13 L397.6 180.52 L399.09 182.18 L400.58 184.12 L402.07 186.38 L403.56 188.98 L405.05 191.9 L406.54 195.15 L408.03 198.68 L409.52 202.44 L411.01 206.36 L412.5 210.34 L413.99 214.3 L415.48 218.14 L416.97 221.78 L418.46 225.16 L419.95 228.23 L421.44 230.97 L422.93 233.38 L424.42 235.47 L425.91 237.25 L427.4 238.75 L428.89 240.01 L430.38 241.06 L431.87 241.93 L433.36 242.64 L434.85 243.23 L436.34 243.7 L437.83 244.09 L439.32 244.41 L440.81 244.66 L442.3 244.87 L443.79 245.03 L445.28 245.17 L446.77 245.28 L448.26 245.36 L449.75 245.43 L451.24 245.49 L452.73 245.53 L454.22 245.57 L455.71 245.6 L457.2 245.62" stroke="#5b9cf5" stroke-width="1.25" fill="none"/>
<path d="M338 169.69 L339.49 169.69 L340.98 169.69 L342.47 169.69 L343.96 169.69 L345.45 169.69 L346.94 169.69 L348.43 169.69 L349.92 169.69 L351.41 169.69 L352.9 169.69 L354.39 169.69 L355.88 169.69 L357.37 169.69 L358.86 169.69 L360.35 169.69 L361.84 169.69 L363.33 169.69 L364.82 169.69 L366.31 169.69 L367.8 169.69 L369.29 169.69 L370.78 169.69 L372.27 169.69 L373.76 169.69 L375.25 169.69 L376.74 169.69 L378.23 169.69 L379.72 169.69 L381.21 169.69 L382.7 169.69 L384.19 169.69 L385.68 169.69 L387.17 169.7 L388.66 169.7 L390.15 169.7 L391.64 169.7 L393.13 169.71 L394.62 169.71 L396.11 169.72 L397.6 169.73 L399.09 169.75 L400.58 169.76 L402.07 169.79 L403.56 169.83 L405.05 169.87 L406.54 169.94 L408.03 170.02 L409.52 170.14 L411.01 170.3 L412.5 170.52 L413.99 170.81 L415.48 171.2 L416.97 171.72 L418.46 172.42 L419.95 173.35 L421.44 174.57 L422.93 176.16 L424.42 178.21 L425.91 180.8 L427.4 184.01 L428.89 187.89 L430.38 192.42 L431.87 197.54 L433.36 203.09 L434.85 208.83 L436.34 214.51 L437.83 219.88 L439.32 224.74 L440.81 228.97 L442.3 232.53 L443.79 235.44 L445.28 237.77 L446.77 239.59 L448.26 240.99 L449.75 242.06 L451.24 242.88 L452.73 243.49 L454.22 243.94 L455.71 244.28 L457.2 244.53" stroke="#1cb51c" stroke-width="1.25" fill="none"/>
<path d="M338 170.2 V175.4 M336.1 170.2 h3.8 M336.1 175.4 h3.8" stroke="#94bffa" stroke-width="1.1" fill="none"/>
<path d="M379.66 171 V175.2 M377.76 171 h3.8 M377.76 175.2 h3.8" stroke="#94bffa" stroke-width="1.1" fill="none"/>
<path d="M397.6 166.9 V191.1 M395.7 166.9 h3.8 M395.7 191.1 h3.8" stroke="#94bffa" stroke-width="1.1" fill="none"/>
<path d="M421.32 216.3 V247.7 M419.42 216.3 h3.8 M419.42 247.7 h3.8" stroke="#94bffa" stroke-width="1.1" fill="none"/>
<rect x="336.15" y="170.65" width="3.7" height="3.7" fill="#5b9cf5"/>
<rect x="377.81" y="171.25" width="3.7" height="3.7" fill="#5b9cf5"/>
<rect x="395.75" y="177.65" width="3.7" height="3.7" fill="#5b9cf5"/>
<rect x="419.47" y="230.35" width="3.7" height="3.7" fill="#5b9cf5"/>
<rect x="437.41" y="243.95" width="3.7" height="3.7" fill="#5b9cf5"/>
<rect x="447.9" y="243.95" width="3.7" height="3.7" fill="#5b9cf5"/>
<rect x="455.35" y="243.45" width="3.7" height="3.7" fill="#5b9cf5"/>
<path d="M397.6 167.4 V173.1 M395.7 167.4 h3.8 M395.7 173.1 h3.8" stroke="#1cb51c" stroke-width="1.5" fill="none"/>
<path d="M439.26 208.5 V240.5 M437.36 208.5 h3.8 M437.36 240.5 h3.8" stroke="#4fcb4f" stroke-width="1.1" fill="none"/>
<path d="M449.75 238.2 V246.5 M447.85 238.2 h3.8 M447.85 246.5 h3.8" stroke="#4fcb4f" stroke-width="1.1" fill="none"/>
<path d="M457.2 241.4 V246.6 M455.3 241.4 h3.8 M455.3 246.6 h3.8" stroke="#1cb51c" stroke-width="1.5" fill="none"/>
<circle cx="338" cy="169.2" r="1.9" fill="#1cb51c"/>
<circle cx="379.66" cy="169.7" r="1.9" fill="#1cb51c"/>
<circle cx="397.6" cy="170.4" r="1.9" fill="#1cb51c"/>
<circle cx="421.32" cy="174.5" r="1.9" fill="#1cb51c"/>
<circle cx="439.26" cy="224.6" r="1.9" fill="#1cb51c"/>
<circle cx="449.75" cy="242.9" r="1.9" fill="#1cb51c"/>
<rect x="455.35" y="242.15" width="3.7" height="3.9" fill="#1cb51c"/>
<path d="M328.5 160.4 V248.25" stroke="#000" stroke-width="1.3" fill="none"/>
<line x1="324.7" x2="328.5" y1="161.0" y2="161.0" stroke="#000" stroke-width="1.3"/>
<line x1="324.7" x2="328.5" y1="247.6" y2="247.6" stroke="#000" stroke-width="1.3"/>
<text x="323.3" y="250" font-size="7.2" text-anchor="end">0</text>
<line x1="324.7" x2="328.5" y1="228.03" y2="228.03" stroke="#000" stroke-width="1.3"/>
<text x="323.3" y="230.43" font-size="7.2" text-anchor="end">25</text>
<line x1="324.7" x2="328.5" y1="208.45" y2="208.45" stroke="#000" stroke-width="1.3"/>
<text x="323.3" y="210.85" font-size="7.2" text-anchor="end">50</text>
<line x1="324.7" x2="328.5" y1="188.88" y2="188.88" stroke="#000" stroke-width="1.3"/>
<text x="323.3" y="191.28" font-size="7.2" text-anchor="end">75</text>
<line x1="324.7" x2="328.5" y1="169.3" y2="169.3" stroke="#000" stroke-width="1.3"/>
<text x="323.3" y="171.7" font-size="7.2" text-anchor="end">100</text>
<line x1="337.35" x2="470.25" y1="257.5" y2="257.5" stroke="#000" stroke-width="1.3"/>
<line x1="338" x2="338" y1="257.5" y2="261.4" stroke="#000" stroke-width="1.3"/>
<text x="337.8" y="269.8" font-size="7.1" text-anchor="middle">10<tspan dy="-1.7" font-size="4.7">-11</tspan></text>
<line x1="355.94" x2="355.94" y1="257.5" y2="259.7" stroke="#000" stroke-width="1.0"/>
<line x1="366.44" x2="366.44" y1="257.5" y2="259.7" stroke="#000" stroke-width="1.0"/>
<line x1="373.88" x2="373.88" y1="257.5" y2="259.7" stroke="#000" stroke-width="1.0"/>
<line x1="379.66" x2="379.66" y1="257.5" y2="259.7" stroke="#000" stroke-width="1.0"/>
<line x1="384.38" x2="384.38" y1="257.5" y2="259.7" stroke="#000" stroke-width="1.0"/>
<line x1="388.37" x2="388.37" y1="257.5" y2="259.7" stroke="#000" stroke-width="1.0"/>
<line x1="391.82" x2="391.82" y1="257.5" y2="259.7" stroke="#000" stroke-width="1.0"/>
<line x1="394.87" x2="394.87" y1="257.5" y2="259.7" stroke="#000" stroke-width="1.0"/>
<line x1="397.6" x2="397.6" y1="257.5" y2="261.4" stroke="#000" stroke-width="1.3"/>
<text x="397.4" y="269.8" font-size="7.1" text-anchor="middle">10<tspan dy="-1.7" font-size="4.7">-10</tspan></text>
<line x1="415.54" x2="415.54" y1="257.5" y2="259.7" stroke="#000" stroke-width="1.0"/>
<line x1="426.04" x2="426.04" y1="257.5" y2="259.7" stroke="#000" stroke-width="1.0"/>
<line x1="433.48" x2="433.48" y1="257.5" y2="259.7" stroke="#000" stroke-width="1.0"/>
<line x1="439.26" x2="439.26" y1="257.5" y2="259.7" stroke="#000" stroke-width="1.0"/>
<line x1="443.98" x2="443.98" y1="257.5" y2="259.7" stroke="#000" stroke-width="1.0"/>
<line x1="447.97" x2="447.97" y1="257.5" y2="259.7" stroke="#000" stroke-width="1.0"/>
<line x1="451.42" x2="451.42" y1="257.5" y2="259.7" stroke="#000" stroke-width="1.0"/>
<line x1="454.47" x2="454.47" y1="257.5" y2="259.7" stroke="#000" stroke-width="1.0"/>
<line x1="457.2" x2="457.2" y1="257.5" y2="261.4" stroke="#000" stroke-width="1.3"/>
<text x="457" y="269.8" font-size="7.1" text-anchor="middle">10<tspan dy="-1.7" font-size="4.7">-9</tspan></text>
<text x="403.4" y="281.8" font-size="8" text-anchor="middle">Berzosertib [M]</text>
<text transform="translate(306.6,204.0) rotate(-90)" font-size="8.4" text-anchor="middle" textLength="81.5" lengthAdjust="spacingAndGlyphs">Proliferating Cells [%]</text>
<line x1="438.7" x2="448.4" y1="171.3" y2="171.3" stroke="#5b9cf5" stroke-width="1.1"/>
<rect x="441.65" y="169.4" width="3.8" height="3.8" fill="#5b9cf5"/>
<text x="454.8" y="173.9" font-size="7.7" font-style="italic" textLength="34.2" lengthAdjust="spacingAndGlyphs">siPBRM1</text>
<line x1="438.7" x2="448.4" y1="184.6" y2="184.6" stroke="#1cb51c" stroke-width="1.1"/>
<circle cx="443.55" cy="184.6" r="1.9" fill="#1cb51c"/>
<text x="454.8" y="187.4" font-size="7.7" font-style="italic" textLength="26.5" lengthAdjust="spacingAndGlyphs">siCTRL</text>
<text x="340.3" y="244.1" font-size="6.4" font-style="italic" style="stroke:none">p&lt;0.0001</text>
</g>
<g class="ct" font-family="Liberation Sans, sans-serif" font-weight="bold" fill="#000">
<path d="M545.32 176.2 L546.86 176.2 L548.4 176.21 L549.93 176.22 L551.47 176.23 L553 176.25 L554.54 176.27 L556.08 176.29 L557.61 176.32 L559.15 176.36 L560.68 176.41 L562.22 176.47 L563.76 176.54 L565.29 176.64 L566.83 176.75 L568.36 176.9 L569.9 177.08 L571.44 177.31 L572.97 177.6 L574.51 177.96 L576.04 178.4 L577.58 178.95 L579.12 179.63 L580.65 180.46 L582.19 181.48 L583.72 182.71 L585.26 184.2 L586.8 185.96 L588.33 188.04 L589.87 190.46 L591.4 193.23 L592.94 196.33 L594.47 199.74 L596.01 203.4 L597.55 207.25 L599.08 211.19 L600.62 215.12 L602.15 218.93 L603.69 222.54 L605.23 225.89 L606.76 228.92 L608.3 231.6 L609.83 233.94 L611.37 235.95 L612.91 237.65 L614.44 239.08 L615.98 240.26 L617.51 241.23 L619.05 242.02 L620.59 242.67 L622.12 243.19 L623.66 243.62 L625.19 243.96 L626.73 244.23 L628.27 244.45 L629.8 244.62 L631.34 244.76 L632.87 244.88 L634.41 244.97 L635.95 245.04 L637.48 245.09 L639.02 245.14 L640.55 245.17 L642.09 245.2 L643.62 245.23 L645.16 245.24 L646.7 245.26 L648.23 245.27 L649.77 245.28 L651.3 245.29 L652.84 245.29 L654.38 245.3 L655.91 245.3 L657.45 245.3 L658.98 245.31 L660.52 245.31 L662.06 245.31 L663.59 245.31 L665.13 245.31 L666.66 245.31 L668.2 245.31" stroke="#5b9cf5" stroke-width="1.25" fill="none"/>
<path d="M545.32 173.46 L546.86 173.46 L548.4 173.46 L549.93 173.46 L551.47 173.46 L553 173.46 L554.54 173.46 L556.08 173.46 L557.61 173.46 L559.15 173.46 L560.68 173.46 L562.22 173.46 L563.76 173.46 L565.29 173.46 L566.83 173.46 L568.36 173.46 L569.9 173.46 L571.44 173.46 L572.97 173.46 L574.51 173.46 L576.04 173.46 L577.58 173.46 L579.12 173.47 L580.65 173.47 L582.19 173.48 L583.72 173.49 L585.26 173.5 L586.8 173.53 L588.33 173.57 L589.87 173.63 L591.4 173.73 L592.94 173.88 L594.47 174.13 L596.01 174.52 L597.55 175.14 L599.08 176.09 L600.62 177.56 L602.15 179.76 L603.69 182.99 L605.23 187.51 L606.76 193.48 L608.3 200.8 L609.83 208.96 L611.37 217.16 L612.91 224.6 L614.44 230.72 L615.98 235.39 L617.51 238.73 L619.05 241.03 L620.59 242.56 L622.12 243.56 L623.66 244.2 L625.19 244.61 L626.73 244.87 L628.27 245.03 L629.8 245.14 L631.34 245.2 L632.87 245.24 L634.41 245.27 L635.95 245.29 L637.48 245.3 L639.02 245.3 L640.55 245.31 L642.09 245.31 L643.62 245.31 L645.16 245.31 L646.7 245.31 L648.23 245.31 L649.77 245.31 L651.3 245.31 L652.84 245.31 L654.38 245.31 L655.91 245.31 L657.45 245.31 L658.98 245.31 L660.52 245.31 L662.06 245.31 L663.59 245.31 L665.13 245.31 L666.66 245.31 L668.2 245.31" stroke="#1cb51c" stroke-width="1.25" fill="none"/>
<path d="M561.4 170.4 V189.8 M559.5 170.4 h3.8 M559.5 189.8 h3.8" stroke="#94bffa" stroke-width="1.1" fill="none"/>
<path d="M598.72 203.2 V216.3 M596.82 203.2 h3.8 M596.82 216.3 h3.8" stroke="#94bffa" stroke-width="1.1" fill="none"/>
<path d="M614.8 235.8 V243.4 M612.9 235.8 h3.8 M612.9 243.4 h3.8" stroke="#94bffa" stroke-width="1.1" fill="none"/>
<rect x="543.47" y="173.15" width="3.7" height="3.7" fill="#5b9cf5"/>
<rect x="559.55" y="178.35" width="3.7" height="3.7" fill="#5b9cf5"/>
<rect x="596.87" y="208.25" width="3.7" height="3.7" fill="#5b9cf5"/>
<rect x="612.95" y="237.45" width="3.7" height="3.7" fill="#5b9cf5"/>
<rect x="634.2" y="242.25" width="3.7" height="3.7" fill="#5b9cf5"/>
<rect x="650.27" y="243.45" width="3.7" height="3.7" fill="#5b9cf5"/>
<rect x="659.68" y="243.45" width="3.7" height="3.7" fill="#5b9cf5"/>
<rect x="666.35" y="243.45" width="3.7" height="3.7" fill="#5b9cf5"/>
<path d="M561.4 170.6 V175.4 M559.5 170.6 h3.8 M559.5 175.4 h3.8" stroke="#1cb51c" stroke-width="1.5" fill="none"/>
<path d="M598.72 170.4 V176.9 M596.82 170.4 h3.8 M596.82 176.9 h3.8" stroke="#1cb51c" stroke-width="1.5" fill="none"/>
<path d="M614.8 225.1 V235.8 M612.9 225.1 h3.8 M612.9 235.8 h3.8" stroke="#4fcb4f" stroke-width="1.1" fill="none"/>
<path d="M636.05 241 V246.5 M634.15 241 h3.8 M634.15 246.5 h3.8" stroke="#1cb51c" stroke-width="1.5" fill="none"/>
<circle cx="545.32" cy="173.1" r="1.9" fill="#1cb51c"/>
<circle cx="561.4" cy="173" r="1.9" fill="#1cb51c"/>
<circle cx="598.72" cy="173.5" r="1.9" fill="#1cb51c"/>
<circle cx="614.8" cy="230.6" r="1.9" fill="#1cb51c"/>
<rect x="634.2" y="242.15" width="3.7" height="3.9" fill="#1cb51c"/>
<rect x="650.27" y="243.35" width="3.7" height="3.9" fill="#1cb51c"/>
<rect x="659.68" y="243.35" width="3.7" height="3.9" fill="#1cb51c"/>
<rect x="666.35" y="243.35" width="3.7" height="3.9" fill="#1cb51c"/>
<path d="M524.8 163.6 V247.85" stroke="#000" stroke-width="1.3" fill="none"/>
<line x1="521.0" x2="524.8" y1="164.2" y2="164.2" stroke="#000" stroke-width="1.3"/>
<line x1="521.0" x2="524.8" y1="247.2" y2="247.2" stroke="#000" stroke-width="1.3"/>
<text x="519.6" y="249.6" font-size="6.93" text-anchor="end">0</text>
<line x1="521.0" x2="524.8" y1="228.35" y2="228.35" stroke="#000" stroke-width="1.3"/>
<text x="519.6" y="230.75" font-size="6.93" text-anchor="end">25</text>
<line x1="521.0" x2="524.8" y1="209.5" y2="209.5" stroke="#000" stroke-width="1.3"/>
<text x="519.6" y="211.9" font-size="6.93" text-anchor="end">50</text>
<line x1="521.0" x2="524.8" y1="190.65" y2="190.65" stroke="#000" stroke-width="1.3"/>
<text x="519.6" y="193.05" font-size="6.93" text-anchor="end">75</text>
<line x1="521.0" x2="524.8" y1="171.8" y2="171.8" stroke="#000" stroke-width="1.3"/>
<text x="519.6" y="174.2" font-size="6.93" text-anchor="end">100</text>
<line x1="533.25" x2="668.75" y1="256.6" y2="256.6" stroke="#000" stroke-width="1.3"/>
<line x1="540.15" x2="540.15" y1="256.6" y2="258.8" stroke="#000" stroke-width="1.0"/>
<line x1="545.32" x2="545.32" y1="256.6" y2="258.8" stroke="#000" stroke-width="1.0"/>
<line x1="549.55" x2="549.55" y1="256.6" y2="258.8" stroke="#000" stroke-width="1.0"/>
<line x1="553.13" x2="553.13" y1="256.6" y2="258.8" stroke="#000" stroke-width="1.0"/>
<line x1="556.23" x2="556.23" y1="256.6" y2="258.8" stroke="#000" stroke-width="1.0"/>
<line x1="558.96" x2="558.96" y1="256.6" y2="258.8" stroke="#000" stroke-width="1.0"/>
<line x1="561.4" x2="561.4" y1="256.6" y2="260.5" stroke="#000" stroke-width="1.3"/>
<text x="561.2" y="268.44" font-size="6.84" text-anchor="middle">10<tspan dy="-1.7" font-size="4.7">-11</tspan></text>
<line x1="577.48" x2="577.48" y1="256.6" y2="258.8" stroke="#000" stroke-width="1.0"/>
<line x1="586.88" x2="586.88" y1="256.6" y2="258.8" stroke="#000" stroke-width="1.0"/>
<line x1="593.55" x2="593.55" y1="256.6" y2="258.8" stroke="#000" stroke-width="1.0"/>
<line x1="598.72" x2="598.72" y1="256.6" y2="258.8" stroke="#000" stroke-width="1.0"/>
<line x1="602.95" x2="602.95" y1="256.6" y2="258.8" stroke="#000" stroke-width="1.0"/>
<line x1="606.53" x2="606.53" y1="256.6" y2="258.8" stroke="#000" stroke-width="1.0"/>
<line x1="609.63" x2="609.63" y1="256.6" y2="258.8" stroke="#000" stroke-width="1.0"/>
<line x1="612.36" x2="612.36" y1="256.6" y2="258.8" stroke="#000" stroke-width="1.0"/>
<line x1="614.8" x2="614.8" y1="256.6" y2="260.5" stroke="#000" stroke-width="1.3"/>
<text x="614.6" y="268.44" font-size="6.84" text-anchor="middle">10<tspan dy="-1.7" font-size="4.7">-10</tspan></text>
<line x1="630.88" x2="630.88" y1="256.6" y2="258.8" stroke="#000" stroke-width="1.0"/>
<line x1="640.28" x2="640.28" y1="256.6" y2="258.8" stroke="#000" stroke-width="1.0"/>
<line x1="646.95" x2="646.95" y1="256.6" y2="258.8" stroke="#000" stroke-width="1.0"/>
<line x1="652.12" x2="652.12" y1="256.6" y2="258.8" stroke="#000" stroke-width="1.0"/>
<line x1="656.35" x2="656.35" y1="256.6" y2="258.8" stroke="#000" stroke-width="1.0"/>
<line x1="659.93" x2="659.93" y1="256.6" y2="258.8" stroke="#000" stroke-width="1.0"/>
<line x1="663.03" x2="663.03" y1="256.6" y2="258.8" stroke="#000" stroke-width="1.0"/>
<line x1="665.76" x2="665.76" y1="256.6" y2="258.8" stroke="#000" stroke-width="1.0"/>
<line x1="668.2" x2="668.2" y1="256.6" y2="260.5" stroke="#000" stroke-width="1.3"/>
<text x="668" y="268.44" font-size="6.84" text-anchor="middle">10<tspan dy="-1.7" font-size="4.7">-9</tspan></text>
<text x="601" y="279.5" font-size="8" text-anchor="middle">Berzosertib [M]+</text>
<text x="601" y="288.9" font-size="8" text-anchor="middle">Niraparib</text>
<text transform="translate(503.8,205.2) rotate(-90)" font-size="8.4" text-anchor="middle" textLength="79.2" lengthAdjust="spacingAndGlyphs">Proliferating Cells [%]</text>
<line x1="622.5" x2="632.2" y1="173.4" y2="173.4" stroke="#5b9cf5" stroke-width="1.1"/>
<rect x="625.45" y="171.5" width="3.8" height="3.8" fill="#5b9cf5"/>
<text x="638.5" y="176" font-size="7.7" font-style="italic" textLength="34.2" lengthAdjust="spacingAndGlyphs">siPBRM1</text>
<line x1="622.5" x2="632.2" y1="186.3" y2="186.3" stroke="#1cb51c" stroke-width="1.1"/>
<circle cx="627.35" cy="186.3" r="1.9" fill="#1cb51c"/>
<text x="638.5" y="189.1" font-size="7.7" font-style="italic" textLength="26.5" lengthAdjust="spacingAndGlyphs">siCTRL</text>
<text x="537.2" y="246.2" font-size="6.4" font-style="italic" style="stroke:none">p&lt;0.0001</text>
</g>
</g>
<g id="pd">
<text x="0" y="313.4" font-family="Liberation Sans, sans-serif" font-weight="bold" font-size="20">d</text>
<rect x="40" y="305" width="599" height="156.6" fill="#000"/>
<g clip-path="url(#panelclip)">
<clipPath id="bd1"><path d="M140 307.6C148.7 307.8 158.5 308.6 165.6 309.6C172.7 310.6 177.6 311.7 182.7 313.5C187.8 315.3 192 317.5 196.3 320.4C200.6 323.2 204.9 326.9 208.3 330.6C211.7 334.3 213.7 338.9 216.8 342.6C219.9 346.3 224.4 349.4 227.1 352.8C229.8 356.2 231.3 359.6 233 363C234.7 366.4 236.2 369.8 237.4 373.3C238.7 376.8 239.9 379.9 240.5 384C241.1 388.1 241.1 393.7 240.8 398C240.5 402.3 239.5 406 238.6 410C237.7 414 237.2 417.6 235.2 422.2C233.2 426.8 230.3 433.4 226.7 437.8C223 442.2 218.5 445.9 213.3 448.9C208.1 451.9 202.3 454.1 195.6 455.6C188.9 457.1 181.7 457.3 173.3 457.8C164.9 458.3 155.3 458.6 145 458.4C134.7 458.2 120.7 457.5 111.7 456.6C102.7 455.7 97.5 454.7 91.2 453.1C84.9 451.5 78.9 449.6 74.1 447.2C69.3 444.8 65.9 442 62.2 438.6C58.5 435.2 54.9 430.7 52 426.7C49.1 422.7 46.8 419 45.1 414.7C43.4 410.4 42.4 406.1 41.7 401C41 395.9 40.7 388.5 40.9 384C41.1 379.5 41.8 377.5 42.8 374C43.8 370.5 45.3 366.8 46.8 363C48.3 359.2 50.3 354.7 52 351.1C53.7 347.6 54.8 344.6 57.1 341.7C59.4 338.8 62.8 336.7 65.6 334C68.4 331.3 71.2 328.2 74.1 325.5C76.9 322.8 79 320.1 82.7 317.8C86.4 315.5 91.2 313.4 96.3 311.8C101.4 310.2 106.1 309.1 113.4 308.4C120.7 307.7 131.3 307.4 140 307.6Z"/></clipPath>
<path d="M140 307.6C148.7 307.8 158.5 308.6 165.6 309.6C172.7 310.6 177.6 311.7 182.7 313.5C187.8 315.3 192 317.5 196.3 320.4C200.6 323.2 204.9 326.9 208.3 330.6C211.7 334.3 213.7 338.9 216.8 342.6C219.9 346.3 224.4 349.4 227.1 352.8C229.8 356.2 231.3 359.6 233 363C234.7 366.4 236.2 369.8 237.4 373.3C238.7 376.8 239.9 379.9 240.5 384C241.1 388.1 241.1 393.7 240.8 398C240.5 402.3 239.5 406 238.6 410C237.7 414 237.2 417.6 235.2 422.2C233.2 426.8 230.3 433.4 226.7 437.8C223 442.2 218.5 445.9 213.3 448.9C208.1 451.9 202.3 454.1 195.6 455.6C188.9 457.1 181.7 457.3 173.3 457.8C164.9 458.3 155.3 458.6 145 458.4C134.7 458.2 120.7 457.5 111.7 456.6C102.7 455.7 97.5 454.7 91.2 453.1C84.9 451.5 78.9 449.6 74.1 447.2C69.3 444.8 65.9 442 62.2 438.6C58.5 435.2 54.9 430.7 52 426.7C49.1 422.7 46.8 419 45.1 414.7C43.4 410.4 42.4 406.1 41.7 401C41 395.9 40.7 388.5 40.9 384C41.1 379.5 41.8 377.5 42.8 374C43.8 370.5 45.3 366.8 46.8 363C48.3 359.2 50.3 354.7 52 351.1C53.7 347.6 54.8 344.6 57.1 341.7C59.4 338.8 62.8 336.7 65.6 334C68.4 331.3 71.2 328.2 74.1 325.5C76.9 322.8 79 320.1 82.7 317.8C86.4 315.5 91.2 313.4 96.3 311.8C101.4 310.2 106.1 309.1 113.4 308.4C120.7 307.7 131.3 307.4 140 307.6Z" fill="#a0a0a0" filter="url(#ctb05)"/>
<g clip-path="url(#bd1)">
<path d="M140 307.6C148.7 307.8 158.5 308.6 165.6 309.6C172.7 310.6 177.6 311.7 182.7 313.5C187.8 315.3 192 317.5 196.3 320.4C200.6 323.2 204.9 326.9 208.3 330.6C211.7 334.3 213.7 338.9 216.8 342.6C219.9 346.3 224.4 349.4 227.1 352.8C229.8 356.2 231.3 359.6 233 363C234.7 366.4 236.2 369.8 237.4 373.3C238.7 376.8 239.9 379.9 240.5 384C241.1 388.1 241.1 393.7 240.8 398C240.5 402.3 239.5 406 238.6 410C237.7 414 237.2 417.6 235.2 422.2C233.2 426.8 230.3 433.4 226.7 437.8C223 442.2 218.5 445.9 213.3 448.9C208.1 451.9 202.3 454.1 195.6 455.6C188.9 457.1 181.7 457.3 173.3 457.8C164.9 458.3 155.3 458.6 145 458.4C134.7 458.2 120.7 457.5 111.7 456.6C102.7 455.7 97.5 454.7 91.2 453.1C84.9 451.5 78.9 449.6 74.1 447.2C69.3 444.8 65.9 442 62.2 438.6C58.5 435.2 54.9 430.7 52 426.7C49.1 422.7 46.8 419 45.1 414.7C43.4 410.4 42.4 406.1 41.7 401C41 395.9 40.7 388.5 40.9 384C41.1 379.5 41.8 377.5 42.8 374C43.8 370.5 45.3 366.8 46.8 363C48.3 359.2 50.3 354.7 52 351.1C53.7 347.6 54.8 344.6 57.1 341.7C59.4 338.8 62.8 336.7 65.6 334C68.4 331.3 71.2 328.2 74.1 325.5C76.9 322.8 79 320.1 82.7 317.8C86.4 315.5 91.2 313.4 96.3 311.8C101.4 310.2 106.1 309.1 113.4 308.4C120.7 307.7 131.3 307.4 140 307.6Z" fill="#bbbbbb"/>
<g filter="url(#ctb1)">
<path d="M62 436C65.3 433.1 74 443.1 80 444.5C86 445.9 93.3 445.2 98 444.5C102.7 443.8 105.1 442.4 108 440.5C110.9 438.6 113.4 435.8 115.5 433C117.6 430.2 119.3 427.5 120.5 424C121.7 420.5 122.1 415.7 122.5 412C122.9 408.3 122.5 404.8 123 402C123.5 399.2 124.2 396.8 125.5 395C126.8 393.2 128.6 391.7 131 391.5C133.4 391.3 136.8 393.1 140 394C143.2 394.9 146.8 397.1 150 397C153.2 396.9 156.6 393.3 159 393.5C161.4 393.7 162.7 395.2 164.5 398C166.3 400.8 167.8 405 170 410C172.2 415 174.7 422.7 178 428C181.3 433.3 185.3 438.3 190 442C194.7 445.7 204.3 446.7 206 450C207.7 453.3 224.3 460 200 462C175.7 464 83 466.3 60 462C37 457.7 58.7 438.9 62 436Z" fill="#7e7e7e"/>
<path d="M178.5 407C180.8 404.2 188.4 403.9 193.3 402.5C198.2 401.1 203.7 400.2 208 398.5C212.3 396.8 216.2 394.6 219 392C221.8 389.4 223 386.3 224.5 383C226 379.7 226.9 371.8 228 372C229.1 372.2 230.5 378.6 231 384C231.5 389.4 231.5 398.1 231 404.4C230.5 410.7 229.8 417.1 228 422C226.2 426.9 223.3 431.1 220 434C216.7 436.9 212 438.8 208 439.5C204 440.2 199.6 439.9 196 438.5C192.4 437.1 189.4 434.4 186.7 431.1C183.9 427.9 180.9 423 179.5 419C178.1 415 176.2 409.8 178.5 407Z" fill="#bebebe"/>
<path d="M159 388C160.3 385.3 164.6 386 166.6 388C168.6 390 169.4 396.4 171 400C172.6 403.6 175.3 406.2 176.4 409.6C177.5 413 176.2 416.4 177.6 420.2C179 424 182.1 429 184.8 432.3C187.5 435.6 190.8 437.9 193.8 439.9C196.8 441.9 202.1 442.6 203 444.5C203.9 446.4 202 450.1 199 451C196 451.9 188.9 450.6 185 450C181.1 449.4 179 449.8 175.7 447.4C172.4 444.9 167.6 439.8 165.1 435.3C162.6 430.8 161.7 425.4 160.6 420.2C159.5 415 158.8 409.4 158.5 404C158.2 398.6 157.7 390.7 159 388Z" fill="#5a5a5a"/>
<ellipse transform="translate(169.8,410) rotate(-12)" rx="3.2" ry="10" fill="#838383"/>
<path d="M128 384C127.5 386.3 125.7 393.3 125 398C124.3 402.7 124.7 407.3 124 412C123.3 416.7 121.5 423.7 121 426" fill="none" stroke="#6a6a6a" stroke-width="3" stroke-linecap="round"/>
<path d="M198.3 385.5C198.5 389.6 198.1 395.1 195.9 398.4C193.6 401.6 188.5 404.5 184.7 405C180.9 405.5 176.3 403.5 172.9 401.3C169.6 399.1 166.1 395.7 164.8 392C163.4 388.3 163.6 382.9 164.9 379.1C166.2 375.2 169.1 370.8 172.4 368.6C175.7 366.5 181.1 365 184.7 365.9C188.4 366.8 192 370.8 194.2 374.1C196.5 377.3 198 381.4 198.3 385.5Z" fill="#858585"/>
<path d="M197.3 385.5C197.6 389.3 197.2 394.6 195.1 397.7C193 400.8 188.1 403.5 184.5 404C180.9 404.4 176.6 402.5 173.4 400.5C170.3 398.4 167 395.2 165.7 391.7C164.5 388.1 164.6 383.1 165.8 379.4C167 375.7 169.8 371.6 172.9 369.5C176 367.5 181.1 366.1 184.6 367C188 367.8 191.4 371.6 193.5 374.7C195.7 377.8 197.1 381.7 197.3 385.5Z" fill="#a3a3a3"/>
<circle cx="207.8" cy="383.6" r="6.6" fill="#8d8d8d"/>
<circle cx="207.8" cy="383.6" r="5.2" fill="#a2a2a2"/>
<path d="M163.1 336C163.4 338.6 165.2 342.4 163.7 344.5C162.1 346.6 157.4 348 153.8 348.7C150.2 349.4 144.4 350.2 141.8 348.7C139.3 347.2 139.1 342.3 138.5 339.6C138 336.9 137.9 334.9 138.6 332.4C139.3 329.9 140.1 325.9 142.6 324.4C145.2 322.9 150.7 322.5 153.8 323.2C156.9 324 159.8 326.9 161.4 329C162.9 331.2 162.7 333.4 163.1 336Z" fill="#c1c1c1"/>
<path d="M132.1 362C132.4 364.8 132.6 368.8 130.9 370.9C129.1 372.9 125 373.9 121.9 374.4C118.7 375 114.7 375.6 111.9 374.3C109.1 373 105.5 369.6 105 366.9C104.5 364.3 107.3 360.7 108.8 358.4C110.3 356.1 111.7 355.1 114 353.2C116.3 351.2 119.9 346.3 122.4 346.5C125 346.7 127.7 351.8 129.3 354.4C130.9 357 131.8 359.2 132.1 362Z" fill="#9a9a9a"/>
<path d="M118.4 353C118.3 354.5 118 356.2 117.2 357.3C116.3 358.5 114.7 359.4 113.2 359.8C111.7 360.1 109.6 360.1 108.3 359.3C107.1 358.6 106.2 356.8 105.7 355.3C105.2 353.8 104.5 351.6 105.2 350.5C105.8 349.5 108.4 349.6 109.7 349C111 348.5 111.7 347.3 113 347.2C114.3 347.1 116.7 347.3 117.6 348.3C118.5 349.3 118.4 351.5 118.4 353Z" fill="#a0a0a0"/>
<path d="M181.9 331.5C182 333.5 179.9 335.6 178.4 337.6C176.9 339.6 175 343.4 172.8 343.7C170.7 344 168 340.7 165.6 339.3C163.2 338 159.6 337.4 158.5 335.5C157.5 333.6 158.4 329.8 159.5 327.8C160.7 325.9 163.4 325 165.6 323.7C167.8 322.5 170.6 319.8 172.7 320.1C174.7 320.5 176.3 323.9 177.9 325.8C179.4 327.7 181.8 329.5 181.9 331.5Z" fill="#a0a0a0"/>
<path d="M172.2 328C172.3 329.2 173.4 331.3 172.7 332C171.9 332.6 169.3 331.9 167.8 332C166.4 332.1 164.6 333.2 163.7 332.8C162.8 332.3 162.8 330.4 162.5 329.4C162.3 328.3 162 327.6 162.1 326.5C162.2 325.4 162.3 323 163.3 322.6C164.2 322.1 166.4 323.5 167.9 323.8C169.3 324.1 171.2 323.9 171.9 324.6C172.6 325.3 172.1 326.8 172.2 328Z" fill="#8e8e8e"/>
<path d="M179 336C178.9 336.9 179.3 338.1 178.8 338.8C178.2 339.5 176.9 340.1 175.9 340.3C174.8 340.5 173.1 340.6 172.4 340.1C171.6 339.5 171.6 338 171.4 337.2C171.3 336.3 171.1 335.5 171.3 334.8C171.6 334.1 172.4 333.5 173.1 333.1C173.9 332.8 174.7 332.6 175.7 332.6C176.6 332.6 178.3 332.6 178.9 333.1C179.4 333.7 179 335.1 179 336Z" fill="#909090"/>
<path d="M152.4 320C152.3 321.5 151.6 323.3 150.7 324.2C149.8 325.2 148.3 325.2 146.9 325.6C145.5 326.1 143.1 327.8 142.2 327.2C141.2 326.5 141.8 323.4 141.4 321.8C141 320.2 139.8 319.1 139.9 317.6C140 316.1 140.9 313.2 142.1 312.7C143.3 312.2 145.4 314.1 146.9 314.6C148.4 315 150.2 314.5 151.1 315.4C152 316.3 152.5 318.5 152.4 320Z" fill="#8e8e8e"/>
<path d="M156.8 350C156.8 351.3 156.4 352.8 155.5 354C154.6 355.2 153 357 151.5 357.2C150 357.4 147.9 356 146.6 355.1C145.2 354.3 144 353.3 143.4 352.1C142.8 350.9 142.5 348.9 143.1 347.9C143.7 346.8 145.7 346.3 147.1 345.6C148.4 345 149.8 344 151.2 344.1C152.7 344.1 154.8 344.9 155.7 345.9C156.6 346.9 156.9 348.7 156.8 350Z" fill="#a3a3a3"/>
<path d="M173.8 345C173.8 347.1 173.4 349.6 171.6 351.2C169.7 352.8 165.5 354.6 162.6 354.6C159.7 354.6 156.3 352.6 154.3 351.4C152.2 350.2 151.2 348.9 150.1 347.3C149 345.8 147 343.7 147.7 342.1C148.3 340.6 151.3 339.3 153.8 338.1C156.3 336.9 159.8 334.7 162.8 334.8C165.8 334.9 169.9 337 171.7 338.7C173.6 340.4 173.9 342.9 173.8 345Z" fill="#b9b9b9"/>
<ellipse cx="150.5" cy="388.3" rx="10.8" ry="10.6" fill="#909090"/>
</g>
<path d="M140 307.6C148.7 307.8 158.5 308.6 165.6 309.6C172.7 310.6 177.6 311.7 182.7 313.5C187.8 315.3 192 317.5 196.3 320.4C200.6 323.2 204.9 326.9 208.3 330.6C211.7 334.3 213.7 338.9 216.8 342.6C219.9 346.3 224.4 349.4 227.1 352.8C229.8 356.2 231.3 359.6 233 363C234.7 366.4 236.2 369.8 237.4 373.3C238.7 376.8 239.9 379.9 240.5 384C241.1 388.1 241.1 393.7 240.8 398C240.5 402.3 239.5 406 238.6 410C237.7 414 237.2 417.6 235.2 422.2C233.2 426.8 230.3 433.4 226.7 437.8C223 442.2 218.5 445.9 213.3 448.9C208.1 451.9 202.3 454.1 195.6 455.6C188.9 457.1 181.7 457.3 173.3 457.8C164.9 458.3 155.3 458.6 145 458.4C134.7 458.2 120.7 457.5 111.7 456.6C102.7 455.7 97.5 454.7 91.2 453.1C84.9 451.5 78.9 449.6 74.1 447.2C69.3 444.8 65.9 442 62.2 438.6C58.5 435.2 54.9 430.7 52 426.7C49.1 422.7 46.8 419 45.1 414.7C43.4 410.4 42.4 406.1 41.7 401C41 395.9 40.7 388.5 40.9 384C41.1 379.5 41.8 377.5 42.8 374C43.8 370.5 45.3 366.8 46.8 363C48.3 359.2 50.3 354.7 52 351.1C53.7 347.6 54.8 344.6 57.1 341.7C59.4 338.8 62.8 336.7 65.6 334C68.4 331.3 71.2 328.2 74.1 325.5C76.9 322.8 79 320.1 82.7 317.8C86.4 315.5 91.2 313.4 96.3 311.8C101.4 310.2 106.1 309.1 113.4 308.4C120.7 307.7 131.3 307.4 140 307.6Z" fill="#000" filter="url(#ctnoise)" opacity="0.24"/>
<path d="M140 307.6C148.7 307.8 158.5 308.6 165.6 309.6C172.7 310.6 177.6 311.7 182.7 313.5C187.8 315.3 192 317.5 196.3 320.4C200.6 323.2 204.9 326.9 208.3 330.6C211.7 334.3 213.7 338.9 216.8 342.6C219.9 346.3 224.4 349.4 227.1 352.8C229.8 356.2 231.3 359.6 233 363C234.7 366.4 236.2 369.8 237.4 373.3C238.7 376.8 239.9 379.9 240.5 384C241.1 388.1 241.1 393.7 240.8 398C240.5 402.3 239.5 406 238.6 410C237.7 414 237.2 417.6 235.2 422.2C233.2 426.8 230.3 433.4 226.7 437.8C223 442.2 218.5 445.9 213.3 448.9C208.1 451.9 202.3 454.1 195.6 455.6C188.9 457.1 181.7 457.3 173.3 457.8C164.9 458.3 155.3 458.6 145 458.4C134.7 458.2 120.7 457.5 111.7 456.6C102.7 455.7 97.5 454.7 91.2 453.1C84.9 451.5 78.9 449.6 74.1 447.2C69.3 444.8 65.9 442 62.2 438.6C58.5 435.2 54.9 430.7 52 426.7C49.1 422.7 46.8 419 45.1 414.7C43.4 410.4 42.4 406.1 41.7 401C41 395.9 40.7 388.5 40.9 384C41.1 379.5 41.8 377.5 42.8 374C43.8 370.5 45.3 366.8 46.8 363C48.3 359.2 50.3 354.7 52 351.1C53.7 347.6 54.8 344.6 57.1 341.7C59.4 338.8 62.8 336.7 65.6 334C68.4 331.3 71.2 328.2 74.1 325.5C76.9 322.8 79 320.1 82.7 317.8C86.4 315.5 91.2 313.4 96.3 311.8C101.4 310.2 106.1 309.1 113.4 308.4C120.7 307.7 131.3 307.4 140 307.6Z" fill="#fff" filter="url(#ctnoise2)" opacity="0.17"/>
<g filter="url(#ctb05)">
<path d="M140 307.6C148.7 307.8 158.5 308.6 165.6 309.6C172.7 310.6 177.6 311.7 182.7 313.5C187.8 315.3 192 317.5 196.3 320.4C200.6 323.2 204.9 326.9 208.3 330.6C211.7 334.3 213.7 338.9 216.8 342.6C219.9 346.3 224.4 349.4 227.1 352.8C229.8 356.2 231.3 359.6 233 363C234.7 366.4 236.2 369.8 237.4 373.3C238.7 376.8 239.9 379.9 240.5 384C241.1 388.1 241.1 393.7 240.8 398C240.5 402.3 239.5 406 238.6 410C237.7 414 237.2 417.6 235.2 422.2C233.2 426.8 230.3 433.4 226.7 437.8C223 442.2 218.5 445.9 213.3 448.9C208.1 451.9 202.3 454.1 195.6 455.6C188.9 457.1 181.7 457.3 173.3 457.8C164.9 458.3 155.3 458.6 145 458.4C134.7 458.2 120.7 457.5 111.7 456.6C102.7 455.7 97.5 454.7 91.2 453.1C84.9 451.5 78.9 449.6 74.1 447.2C69.3 444.8 65.9 442 62.2 438.6C58.5 435.2 54.9 430.7 52 426.7C49.1 422.7 46.8 419 45.1 414.7C43.4 410.4 42.4 406.1 41.7 401C41 395.9 40.7 388.5 40.9 384C41.1 379.5 41.8 377.5 42.8 374C43.8 370.5 45.3 366.8 46.8 363C48.3 359.2 50.3 354.7 52 351.1C53.7 347.6 54.8 344.6 57.1 341.7C59.4 338.8 62.8 336.7 65.6 334C68.4 331.3 71.2 328.2 74.1 325.5C76.9 322.8 79 320.1 82.7 317.8C86.4 315.5 91.2 313.4 96.3 311.8C101.4 310.2 106.1 309.1 113.4 308.4C120.7 307.7 131.3 307.4 140 307.6Z" fill="none" stroke="#a0a0a0" stroke-width="6"/>
<path d="M55 350C55.9 348.7 58.3 344.6 60.5 342C62.7 339.4 65.2 337.2 68 334.5C70.8 331.8 74.2 328.5 77 326C79.8 323.5 81.5 321.6 85 319.5C88.5 317.4 92.2 315.1 98 313.6C103.8 312.1 113 311.2 120 310.6C127 310 132.5 309.9 140 310.1C147.5 310.3 158 311 165 312C172 313 177 314.2 182 316C187 317.8 190.9 319.8 195 322.5C199.1 325.2 203.2 329 206.5 332.5C209.8 336 213.2 341.7 214.5 343.5" fill="none" stroke="#979797" stroke-width="6.4" stroke-linecap="round"/>
<ellipse transform="translate(134.7,352) rotate(12)" rx="2.3" ry="5.6" fill="#d8d8d8"/>
<path d="M92 452C95.3 452.6 104 454.7 112 455.5C120 456.3 130 456.8 140 457C150 457.2 162.7 457 172 456.5C181.3 456 192 454.4 196 454" fill="none" stroke="#969696" stroke-width="9" stroke-linecap="butt"/>
<path d="M190.4 363C191 361.4 193.3 360.5 196.3 360C199.3 359.5 205.2 359.2 208.3 360C211.4 360.8 213.7 362.6 215.1 364.8C216.5 367 216.8 370.6 216.8 373.3C216.8 376 216.1 379.9 215.1 381C214.1 382.1 212.2 381 210.9 380.1C209.6 379.2 208.7 376.3 207.4 375.9C206.1 375.5 204.5 376.8 203.2 377.6C201.9 378.5 201 381.1 199.8 381C198.7 380.9 197.5 378.6 196.3 376.7C195.2 374.8 193.9 372.2 192.9 369.9C191.9 367.6 189.8 364.6 190.4 363Z" fill="#000"/>
<path d="M62.5 433.8C63.8 434.7 67.2 437.5 70 439C72.8 440.5 76 442.1 79.3 443C82.6 443.9 86.6 444.2 90 444.2C93.4 444.2 98.2 443 99.8 442.8" fill="none" stroke="#000" stroke-width="2.3" stroke-linecap="round"/>
<path d="M208.3 337.4C209.9 339.3 215.2 345.4 218 349C220.8 352.6 223.8 357.3 225 359" fill="none" stroke="#000" stroke-width="0.8" stroke-linecap="round"/>
<path d="M227 360C227.6 362 229.7 367.8 230.5 372C231.3 376.2 231.7 380.2 232 385C232.3 389.8 233.1 395.7 232.6 401C232.1 406.3 230.6 411.8 228.8 416.6C227 421.4 224.5 425.8 222 429.6C219.5 433.4 217 436.6 214 439.5C211 442.4 205.7 445.8 204 447" fill="none" stroke="#000" stroke-width="4.3" stroke-linecap="round"/>
<path d="M225 425C224.1 426.5 221.7 431.2 219.5 434C217.3 436.8 214.4 439.5 212 441.5C209.6 443.5 206.2 445.2 205 446" fill="none" stroke="#000" stroke-width="5.6" stroke-linecap="round"/>
<circle cx="150.5" cy="388.3" r="8.7" fill="#ececec"/>
<ellipse transform="translate(135.3,376.8) rotate(-40)" rx="8.4" ry="6.2" fill="#dadada"/>
<circle cx="115.1" cy="341.1" r="1.5" fill="#f0f0f0"/>
<circle cx="96.5" cy="344.1" r="1.0" fill="#e4e4e4"/>
<circle cx="92.9" cy="369.4" r="2.3" fill="#e2e2e2"/>
<circle cx="96.5" cy="378.4" r="1.9" fill="#dcdcdc"/>
<circle cx="141" cy="371" r="2.2" fill="#d0d0d0"/>
<circle cx="103" cy="370" r="1.6" fill="#cfcfcf"/>
<circle cx="147" cy="368.5" r="1.6" fill="#d6d6d6"/>
<circle cx="157" cy="366.5" r="1.4" fill="#d0d0d0"/>
<circle cx="88" cy="384" r="1.2" fill="#d0d0d0"/>
<path d="M128 400.5C130.7 399 136 398.8 140 398.8C144 398.8 149.3 399 152 400.5C154.7 402 155.6 404.9 156.2 408C156.8 411.1 156.4 416.1 155.5 419C154.6 421.9 153.6 424.2 151 425.5C148.4 426.8 143.7 426.8 140 426.8C136.3 426.8 131.6 426.8 129 425.5C126.4 424.2 125.4 421.9 124.5 419C123.6 416.1 123.2 411.1 123.8 408C124.4 404.9 125.3 402 128 400.5Z" fill="#f4f4f4"/>
<ellipse cx="140" cy="430" rx="13.2" ry="9.6" fill="#f1f1f1"/>
<path d="M137.9 437 L142.1 437 L141.1 458 L138.9 458Z" fill="#ededed"/>
<ellipse cx="140" cy="411.5" rx="11" ry="8.2" fill="#d2d2d2"/>
<ellipse cx="140" cy="411.5" rx="10.5" ry="8" fill="#fff" filter="url(#ctspeck)" opacity="0.9"/>
<ellipse cx="140" cy="429.3" rx="8.6" ry="5.6" fill="#5c5c5c"/>
</g>
<g filter="url(#ctb03)">
<g transform="translate(62.2,345) rotate(-42)"><ellipse rx="6.3" ry="2.8" fill="#f6f6f6"/><ellipse rx="3.4" ry="0.8" fill="#909090"/></g>
<g transform="translate(50.2,367.8) rotate(-72)"><ellipse rx="4.8" ry="2.8" fill="#f6f6f6"/><ellipse rx="1.9" ry="0.8" fill="#909090"/></g>
<ellipse transform="translate(45.2,396) rotate(-86)" rx="5" ry="2.4" fill="#f8f8f8"/>
<ellipse transform="translate(57.1,426.9) rotate(50)" rx="6" ry="2.4" fill="#f8f8f8"/>
<ellipse transform="translate(87.8,447.4) rotate(8)" rx="6.2" ry="1.7" fill="#f8f8f8"/>
<ellipse transform="translate(203.2,328.8) rotate(36)" rx="3.8" ry="1.3" fill="#f8f8f8"/>
<g transform="translate(223.9,356.2) rotate(52)"><ellipse rx="7" ry="3.5" fill="#f6f6f6"/><ellipse rx="4.2" ry="1.5" fill="#909090"/></g>
<g transform="translate(233.4,376) rotate(76)"><ellipse rx="5.3" ry="2.8" fill="#f6f6f6"/><ellipse rx="2.4" ry="0.8" fill="#909090"/></g>
<g transform="translate(236.4,401.5) rotate(86)"><ellipse rx="4.8" ry="2.5" fill="#f6f6f6"/><ellipse rx="1.9" ry="0.5" fill="#909090"/></g>
<ellipse transform="translate(221.8,434.4) rotate(-45)" rx="5.5" ry="2.1" fill="#f8f8f8"/>
<ellipse transform="translate(190,451.6) rotate(-4)" rx="6" ry="1.6" fill="#f8f8f8"/>
</g>
</g>
<text x="47.4" y="322.2" font-family="Liberation Sans, sans-serif" font-size="11.4" fill="#f4f4f4" textLength="29.8" lengthAdjust="spacingAndGlyphs">02/22</text>
<path d="M93.7 333.7 L102.5 342.2 L101.2 343.5 L107.1 345.5 L105 339.7 L103.7 341 L94.9 332.5Z" fill="#0a0a0a"/>
<path d="M82.3 361.5 L94.2 361.5 L94.2 363.3 L99.8 360.6 L94.2 357.9 L94.2 359.8 L82.3 359.8Z" fill="#0a0a0a"/>
<path d="M94.1 392.1 L103 383.5 L104.3 384.8 L106.4 379 L100.5 381 L101.8 382.3 L92.9 390.9Z" fill="#0a0a0a"/>
<path d="M113.8 317.6 L121.3 320.5 L120.5 322.4 L127.3 320.9 L123.2 315.3 L122.5 317.2 L115 314.4Z" fill="none" stroke="#fafafa" stroke-width="1.05" stroke-linejoin="miter"/>
<path d="M159.1 343.7 L154.3 337.7 L155.9 336.5 L149.3 334.3 L150 341.2 L151.6 339.9 L156.3 345.9Z" fill="none" stroke="#fafafa" stroke-width="1.05" stroke-linejoin="miter"/>
<path d="M238.4 373v15" stroke="#8c6a44" stroke-width="1.1" stroke-dasharray="1.3 1.5" fill="none"/><path d="M236.4 375.2h3M236.4 378h3M236.4 380.8h3M236.4 383.6h3" stroke="#7d5f3e" stroke-width="0.8" fill="none"/><path d="M228.6 388.3H239.8" stroke="#6b4e33" stroke-width="2.2" fill="none"/>
<clipPath id="bd2"><path d="M341 307.8C349.1 308 355.3 308.7 361.6 309.3C367.9 309.9 373.6 310 378.7 311.3C383.8 312.6 388 314.4 392.3 317C396.6 319.6 401.2 323.8 404.3 327.2C407.4 330.6 408.2 334 411.1 337.4C414 340.8 418.4 344.3 421.4 347.7C424.4 351.1 427 354.2 429 357.9C431 361.6 432.4 365.5 433.6 369.9C434.8 374.2 435.7 378.2 436.4 384C437.1 389.8 438.2 397.7 437.8 404.4C437.4 411.1 436 418.8 433.8 424.4C431.6 430 428.6 433.9 424.9 437.8C421.2 441.7 416.8 445.2 411.6 447.8C406.4 450.4 400.9 451.8 393.8 453.3C386.8 454.8 378.1 455.8 369.3 456.7C360.5 457.6 351.3 458.9 341 459C330.7 459.1 316.7 458.2 307.7 457.4C298.7 456.6 293.5 455.7 287.2 454C280.9 452.3 274.7 450.1 270.1 447.2C265.6 444.3 263 440.3 259.9 436.9C256.8 433.5 254 430.4 251.4 426.7C248.8 423 246.2 419 244.5 414.7C242.8 410.4 241.8 406.1 241.1 401C240.4 395.9 240 388.6 240.3 384C240.6 379.4 241.8 377.1 242.8 373.3C243.8 369.5 244.8 365 246.2 361.3C247.6 357.6 249.1 354.3 251.4 351C253.7 347.7 257.1 344.8 259.9 341.7C262.7 338.6 265.8 335.4 268.4 332.3C271 329.2 272.7 325.9 275.3 323C277.9 320.1 280.4 317.4 283.8 315.2C287.2 313 291 311.2 295.8 310C300.6 308.8 305.3 308.4 312.8 308C320.3 307.6 332.9 307.6 341 307.8Z"/></clipPath>
<path d="M341 307.8C349.1 308 355.3 308.7 361.6 309.3C367.9 309.9 373.6 310 378.7 311.3C383.8 312.6 388 314.4 392.3 317C396.6 319.6 401.2 323.8 404.3 327.2C407.4 330.6 408.2 334 411.1 337.4C414 340.8 418.4 344.3 421.4 347.7C424.4 351.1 427 354.2 429 357.9C431 361.6 432.4 365.5 433.6 369.9C434.8 374.2 435.7 378.2 436.4 384C437.1 389.8 438.2 397.7 437.8 404.4C437.4 411.1 436 418.8 433.8 424.4C431.6 430 428.6 433.9 424.9 437.8C421.2 441.7 416.8 445.2 411.6 447.8C406.4 450.4 400.9 451.8 393.8 453.3C386.8 454.8 378.1 455.8 369.3 456.7C360.5 457.6 351.3 458.9 341 459C330.7 459.1 316.7 458.2 307.7 457.4C298.7 456.6 293.5 455.7 287.2 454C280.9 452.3 274.7 450.1 270.1 447.2C265.6 444.3 263 440.3 259.9 436.9C256.8 433.5 254 430.4 251.4 426.7C248.8 423 246.2 419 244.5 414.7C242.8 410.4 241.8 406.1 241.1 401C240.4 395.9 240 388.6 240.3 384C240.6 379.4 241.8 377.1 242.8 373.3C243.8 369.5 244.8 365 246.2 361.3C247.6 357.6 249.1 354.3 251.4 351C253.7 347.7 257.1 344.8 259.9 341.7C262.7 338.6 265.8 335.4 268.4 332.3C271 329.2 272.7 325.9 275.3 323C277.9 320.1 280.4 317.4 283.8 315.2C287.2 313 291 311.2 295.8 310C300.6 308.8 305.3 308.4 312.8 308C320.3 307.6 332.9 307.6 341 307.8Z" fill="#a0a0a0" filter="url(#ctb05)"/>
<g clip-path="url(#bd2)">
<path d="M341 307.8C349.1 308 355.3 308.7 361.6 309.3C367.9 309.9 373.6 310 378.7 311.3C383.8 312.6 388 314.4 392.3 317C396.6 319.6 401.2 323.8 404.3 327.2C407.4 330.6 408.2 334 411.1 337.4C414 340.8 418.4 344.3 421.4 347.7C424.4 351.1 427 354.2 429 357.9C431 361.6 432.4 365.5 433.6 369.9C434.8 374.2 435.7 378.2 436.4 384C437.1 389.8 438.2 397.7 437.8 404.4C437.4 411.1 436 418.8 433.8 424.4C431.6 430 428.6 433.9 424.9 437.8C421.2 441.7 416.8 445.2 411.6 447.8C406.4 450.4 400.9 451.8 393.8 453.3C386.8 454.8 378.1 455.8 369.3 456.7C360.5 457.6 351.3 458.9 341 459C330.7 459.1 316.7 458.2 307.7 457.4C298.7 456.6 293.5 455.7 287.2 454C280.9 452.3 274.7 450.1 270.1 447.2C265.6 444.3 263 440.3 259.9 436.9C256.8 433.5 254 430.4 251.4 426.7C248.8 423 246.2 419 244.5 414.7C242.8 410.4 241.8 406.1 241.1 401C240.4 395.9 240 388.6 240.3 384C240.6 379.4 241.8 377.1 242.8 373.3C243.8 369.5 244.8 365 246.2 361.3C247.6 357.6 249.1 354.3 251.4 351C253.7 347.7 257.1 344.8 259.9 341.7C262.7 338.6 265.8 335.4 268.4 332.3C271 329.2 272.7 325.9 275.3 323C277.9 320.1 280.4 317.4 283.8 315.2C287.2 313 291 311.2 295.8 310C300.6 308.8 305.3 308.4 312.8 308C320.3 307.6 332.9 307.6 341 307.8Z" fill="#bbbbbb"/>
<g filter="url(#ctb1)">
<path d="M262 436C265.5 433.1 272.8 443 279 444.5C285.2 446 293.7 446.5 299 445C304.3 443.5 307.7 439.7 311 435.5C314.3 431.3 317.2 425.2 319 420C320.8 414.8 321.1 408.2 322 404C322.9 399.8 323.2 397.1 324.5 395C325.8 392.9 327.6 391.7 330 391.5C332.4 391.3 335.8 393.1 339 394C342.2 394.9 345.8 397.1 349 397C352.2 396.9 355.6 393.3 358 393.5C360.4 393.7 361.7 395.2 363.5 398C365.3 400.8 366.9 405 369 410C371.1 415 372.8 422.7 376 428C379.2 433.3 383.7 438.3 388 442C392.3 445.7 400.3 446.7 402 450C403.7 453.3 422 460 398 462C374 464 280.7 466.3 258 462C235.3 457.7 258.5 438.9 262 436Z" fill="#7e7e7e"/>
<path d="M368 407C369.7 404.3 377.3 402.5 382 401C386.7 399.5 391.2 398.8 396 398C400.8 397.2 406.8 397.7 411 396C415.2 394.3 418.8 391.3 421 388C423.2 384.7 423.3 376.3 424.5 376C425.7 375.7 427.3 381.3 428 386C428.7 390.7 429 398.6 428.5 404.4C428 410.2 427.1 416.2 425 421C422.9 425.8 419.5 430.2 416 433C412.5 435.8 408 437.2 404 438C400 438.8 395.8 439 392 437.5C388.2 436 384.3 432.4 381 429C377.7 425.6 374.2 420.7 372 417C369.8 413.3 366.3 409.7 368 407Z" fill="#bebebe"/>
<path d="M357 388C357.9 385.3 361.1 386.3 362.5 388C363.9 389.7 364.8 395 365.5 398C366.2 401 366.4 402.7 367 406C367.6 409.3 367.7 414.3 369 418C370.3 421.7 372.8 425.2 375 428C377.2 430.8 379 432.8 382 435C385 437.2 390 439.8 393 441.5C396 443.2 399.5 443.4 400 445C400.5 446.6 398.7 450.2 396 451C393.3 451.8 387.7 450.7 384 450C380.3 449.3 377.3 449.3 374 447C370.7 444.7 366.4 440.5 364 436C361.6 431.5 360.7 425.3 359.5 420C358.3 414.7 357.4 409.3 357 404C356.6 398.7 356.1 390.7 357 388Z" fill="#5a5a5a"/>
<path d="M326 384C325.5 386.3 323.8 393.3 323 398C322.2 402.7 322 407.3 321 412C320 416.7 317.7 423.7 317 426" fill="none" stroke="#6a6a6a" stroke-width="3" stroke-linecap="round"/>
<path d="M401.5 383.5C401.6 387.8 399.5 393.7 396.4 396.6C393.4 399.5 387.5 400.5 383.2 400.9C378.9 401.3 374.5 400.6 370.7 398.9C366.8 397.1 361.9 394 360.2 390.3C358.5 386.7 358.9 380.7 360.5 376.8C362.1 372.8 365.9 368.5 369.7 366.6C373.5 364.7 379.1 364.6 383.4 365.4C387.7 366.1 392.6 368.1 395.6 371.1C398.6 374.1 401.3 379.2 401.5 383.5Z" fill="#858585"/>
<path d="M400.4 383.5C400.5 387.5 398.5 393.2 395.6 395.9C392.7 398.6 387.1 399.6 383.1 400C379 400.3 374.8 399.7 371.1 398.1C367.5 396.4 362.8 393.5 361.2 390C359.6 386.5 360 380.9 361.5 377.1C363 373.4 366.6 369.3 370.2 367.5C373.9 365.7 379.1 365.6 383.2 366.3C387.3 367 391.9 368.9 394.8 371.7C397.7 374.6 400.3 379.5 400.4 383.5Z" fill="#a3a3a3"/>
<path d="M392.7 366C393.2 364.8 398.1 363.3 401 363.5C403.9 363.7 407.7 364.9 410 367C412.3 369.1 414.6 372.8 414.9 376C415.2 379.2 413.6 383.8 412 386C410.4 388.2 406.5 390 405 389C403.5 388 404.2 383 403 380C401.8 377 399.7 373.3 398 371C396.3 368.7 392.2 367.2 392.7 366Z" fill="#505050"/>
<path d="M330.3 362C330.5 365.9 332.5 371.2 330.4 374.3C328.4 377.4 322.2 380 318 380.4C313.8 380.8 308.2 379.2 305.1 377C302 374.8 301 370.8 299.2 367.1C297.3 363.5 293.3 358.9 294 355.1C294.8 351.4 299.6 346.3 303.5 344.5C307.5 342.8 313.6 343.6 317.8 344.7C322.1 345.7 327 347.8 329.1 350.7C331.2 353.6 330.1 358.1 330.3 362Z" fill="#868686"/>
<path d="M310.6 356C310.3 357.7 307.7 359.2 306.4 360.2C305.1 361.2 304.4 361.3 302.9 362C301.5 362.7 298.7 365.3 297.6 364.7C296.5 364 296.6 360.1 296.5 358.3C296.3 356.5 296.4 355.4 296.7 353.8C297 352.2 297.2 349.4 298.2 348.5C299.3 347.7 301.4 348.5 303.1 348.7C304.8 348.9 307.2 348.6 308.4 349.9C309.7 351.1 310.9 354.3 310.6 356Z" fill="#8a8a8a"/>
<path d="M335.9 350C336.3 351.6 334.9 354.1 333.4 355.5C331.9 356.9 328.9 358.4 326.9 358.2C324.9 358.1 323.2 355.8 321.4 354.8C319.7 353.8 316.9 353.7 316.2 352.5C315.4 351.3 316.2 349.1 316.9 347.7C317.6 346.3 318.9 344.4 320.4 343.8C322 343.3 324.5 344 326.3 344.4C328 344.8 329.2 345.3 330.8 346.2C332.4 347.1 335.5 348.4 335.9 350Z" fill="#909090"/>
<path d="M381.7 334C382.2 336.6 381.1 341.4 379.3 343C377.5 344.7 373.6 343.3 370.7 343.9C367.8 344.6 363.6 348.1 361.8 347C360 345.9 360.6 340.4 359.8 337.5C359.1 334.6 356.5 331.5 357.3 329.5C358 327.6 362.1 327.2 364.4 325.7C366.8 324.2 369.3 320.3 371.3 320.7C373.2 321 374.5 325.4 376.3 327.6C378 329.9 381.2 331.4 381.7 334Z" fill="#8a8a8a"/>
<path d="M349.4 323.5C349.8 325.7 350.5 329.4 349.4 331.3C348.3 333.2 344.9 335.1 342.8 335C340.8 335 339.1 332.2 337.1 330.9C335.2 329.7 331.8 329.4 331 327.6C330.1 325.7 330.9 321.6 332 319.8C333.1 318.1 335.7 318.2 337.5 316.8C339.4 315.4 341.3 311.2 342.9 311.4C344.5 311.6 346 315.8 347.1 317.9C348.1 319.9 349.1 321.3 349.4 323.5Z" fill="#8f8f8f"/>
<path d="M362.9 318C362.7 319 360.7 320 359.6 320.7C358.4 321.4 357.4 321.9 356 322.2C354.7 322.5 352.3 323 351.3 322.5C350.3 322.1 350.5 320.4 349.9 319.3C349.2 318.2 347.3 317.1 347.5 316.1C347.7 315 349.6 313.4 351 313.1C352.4 312.8 354.3 314 355.9 314.2C357.6 314.4 359.7 313.9 360.9 314.5C362 315.1 363.1 317 362.9 318Z" fill="#989898"/>
<path d="M355.4 347C355.4 348.2 354.9 349.5 354.1 350.5C353.2 351.5 351.5 353 350.3 353C349 353.1 347.4 351.5 346.5 350.7C345.5 349.9 345.3 349.3 344.6 348.3C343.9 347.4 342.2 345.9 342.4 345C342.7 344.1 345 343.5 346.3 343C347.5 342.6 348.6 342.3 350 342.4C351.3 342.4 353.4 342.5 354.3 343.3C355.2 344 355.5 345.8 355.4 347Z" fill="#9a9a9a"/>
<path d="M337 312C336.9 312.7 336.6 313.2 336.1 313.8C335.6 314.4 334.8 315.5 333.9 315.6C333 315.7 331.7 315 330.9 314.5C330.1 314.1 329.6 313.6 329.2 313C328.7 312.4 328.1 311.5 328.4 310.8C328.6 310.2 329.7 309.4 330.6 309.1C331.5 308.8 332.7 308.9 333.7 309C334.7 309.2 336.1 309.4 336.6 309.9C337.2 310.4 337.1 311.3 337 312Z" fill="#a0a0a0"/>
<path d="M377.1 336C377.2 336.8 376.2 337.8 375.5 338.7C374.9 339.5 374 341.1 373 341.2C372.1 341.3 370.7 340.1 369.8 339.5C368.8 338.9 367.6 338.4 367.3 337.5C366.9 336.7 367.3 335.5 367.7 334.6C368.1 333.7 368.7 332.9 369.6 332.3C370.5 331.6 372.2 330.3 373.1 330.5C374 330.8 374.4 332.8 375.1 333.7C375.7 334.6 377 335.2 377.1 336Z" fill="#a0a0a0"/>
<ellipse cx="348.3" cy="388.5" rx="10.8" ry="10.6" fill="#909090"/>
</g>
<path d="M341 307.8C349.1 308 355.3 308.7 361.6 309.3C367.9 309.9 373.6 310 378.7 311.3C383.8 312.6 388 314.4 392.3 317C396.6 319.6 401.2 323.8 404.3 327.2C407.4 330.6 408.2 334 411.1 337.4C414 340.8 418.4 344.3 421.4 347.7C424.4 351.1 427 354.2 429 357.9C431 361.6 432.4 365.5 433.6 369.9C434.8 374.2 435.7 378.2 436.4 384C437.1 389.8 438.2 397.7 437.8 404.4C437.4 411.1 436 418.8 433.8 424.4C431.6 430 428.6 433.9 424.9 437.8C421.2 441.7 416.8 445.2 411.6 447.8C406.4 450.4 400.9 451.8 393.8 453.3C386.8 454.8 378.1 455.8 369.3 456.7C360.5 457.6 351.3 458.9 341 459C330.7 459.1 316.7 458.2 307.7 457.4C298.7 456.6 293.5 455.7 287.2 454C280.9 452.3 274.7 450.1 270.1 447.2C265.6 444.3 263 440.3 259.9 436.9C256.8 433.5 254 430.4 251.4 426.7C248.8 423 246.2 419 244.5 414.7C242.8 410.4 241.8 406.1 241.1 401C240.4 395.9 240 388.6 240.3 384C240.6 379.4 241.8 377.1 242.8 373.3C243.8 369.5 244.8 365 246.2 361.3C247.6 357.6 249.1 354.3 251.4 351C253.7 347.7 257.1 344.8 259.9 341.7C262.7 338.6 265.8 335.4 268.4 332.3C271 329.2 272.7 325.9 275.3 323C277.9 320.1 280.4 317.4 283.8 315.2C287.2 313 291 311.2 295.8 310C300.6 308.8 305.3 308.4 312.8 308C320.3 307.6 332.9 307.6 341 307.8Z" fill="#000" filter="url(#ctnoise)" opacity="0.24"/>
<path d="M341 307.8C349.1 308 355.3 308.7 361.6 309.3C367.9 309.9 373.6 310 378.7 311.3C383.8 312.6 388 314.4 392.3 317C396.6 319.6 401.2 323.8 404.3 327.2C407.4 330.6 408.2 334 411.1 337.4C414 340.8 418.4 344.3 421.4 347.7C424.4 351.1 427 354.2 429 357.9C431 361.6 432.4 365.5 433.6 369.9C434.8 374.2 435.7 378.2 436.4 384C437.1 389.8 438.2 397.7 437.8 404.4C437.4 411.1 436 418.8 433.8 424.4C431.6 430 428.6 433.9 424.9 437.8C421.2 441.7 416.8 445.2 411.6 447.8C406.4 450.4 400.9 451.8 393.8 453.3C386.8 454.8 378.1 455.8 369.3 456.7C360.5 457.6 351.3 458.9 341 459C330.7 459.1 316.7 458.2 307.7 457.4C298.7 456.6 293.5 455.7 287.2 454C280.9 452.3 274.7 450.1 270.1 447.2C265.6 444.3 263 440.3 259.9 436.9C256.8 433.5 254 430.4 251.4 426.7C248.8 423 246.2 419 244.5 414.7C242.8 410.4 241.8 406.1 241.1 401C240.4 395.9 240 388.6 240.3 384C240.6 379.4 241.8 377.1 242.8 373.3C243.8 369.5 244.8 365 246.2 361.3C247.6 357.6 249.1 354.3 251.4 351C253.7 347.7 257.1 344.8 259.9 341.7C262.7 338.6 265.8 335.4 268.4 332.3C271 329.2 272.7 325.9 275.3 323C277.9 320.1 280.4 317.4 283.8 315.2C287.2 313 291 311.2 295.8 310C300.6 308.8 305.3 308.4 312.8 308C320.3 307.6 332.9 307.6 341 307.8Z" fill="#fff" filter="url(#ctnoise2)" opacity="0.17"/>
<g filter="url(#ctb05)">
<path d="M341 307.8C349.1 308 355.3 308.7 361.6 309.3C367.9 309.9 373.6 310 378.7 311.3C383.8 312.6 388 314.4 392.3 317C396.6 319.6 401.2 323.8 404.3 327.2C407.4 330.6 408.2 334 411.1 337.4C414 340.8 418.4 344.3 421.4 347.7C424.4 351.1 427 354.2 429 357.9C431 361.6 432.4 365.5 433.6 369.9C434.8 374.2 435.7 378.2 436.4 384C437.1 389.8 438.2 397.7 437.8 404.4C437.4 411.1 436 418.8 433.8 424.4C431.6 430 428.6 433.9 424.9 437.8C421.2 441.7 416.8 445.2 411.6 447.8C406.4 450.4 400.9 451.8 393.8 453.3C386.8 454.8 378.1 455.8 369.3 456.7C360.5 457.6 351.3 458.9 341 459C330.7 459.1 316.7 458.2 307.7 457.4C298.7 456.6 293.5 455.7 287.2 454C280.9 452.3 274.7 450.1 270.1 447.2C265.6 444.3 263 440.3 259.9 436.9C256.8 433.5 254 430.4 251.4 426.7C248.8 423 246.2 419 244.5 414.7C242.8 410.4 241.8 406.1 241.1 401C240.4 395.9 240 388.6 240.3 384C240.6 379.4 241.8 377.1 242.8 373.3C243.8 369.5 244.8 365 246.2 361.3C247.6 357.6 249.1 354.3 251.4 351C253.7 347.7 257.1 344.8 259.9 341.7C262.7 338.6 265.8 335.4 268.4 332.3C271 329.2 272.7 325.9 275.3 323C277.9 320.1 280.4 317.4 283.8 315.2C287.2 313 291 311.2 295.8 310C300.6 308.8 305.3 308.4 312.8 308C320.3 307.6 332.9 307.6 341 307.8Z" fill="none" stroke="#a0a0a0" stroke-width="6"/>
<path d="M254.5 350C255.8 348.6 259.8 344.4 262.5 341.5C265.2 338.6 268 335.5 270.5 332.5C273 329.5 274.9 326.2 277.5 323.5C280.1 320.8 282.6 318.2 286 316.3C289.4 314.4 292.7 312.8 298 311.8C303.3 310.8 310.8 310.6 318 310.3C325.2 310.1 333.3 310.1 341 310.3C348.7 310.6 357.7 311.2 364 311.8C370.3 312.4 374.4 312.7 379 314C383.6 315.3 387.6 317 391.5 319.5C395.4 322 399.6 325.8 402.5 329C405.4 332.2 407.9 336.9 409 338.5" fill="none" stroke="#979797" stroke-width="6.4" stroke-linecap="round"/>
<path d="M372 313.5C374 314 380.3 315 384 316.5C387.7 318 390.8 320 394 322.5C397.2 325 400.5 328.6 403 331.5C405.5 334.4 408 338.6 409 340" fill="none" stroke="#8e8e8e" stroke-width="6.5" stroke-linecap="round"/>
<path d="M290 453C293.3 453.5 301.5 455.2 310 456C318.5 456.8 330.7 457.5 341 457.5C351.3 457.5 363.5 456.8 372 456C380.5 455.2 388.7 453.5 392 453" fill="none" stroke="#969696" stroke-width="9" stroke-linecap="butt"/>
<path d="M377.5 378.2l3.2-1.8 0.5 0.9-3.2 1.8z" fill="#111"/>
<path d="M261.8 433.8C263.1 434.7 266.7 437.8 269.5 439.4C272.3 441 275.4 442.3 278.7 443.2C281.9 444.1 285.6 444.5 289 444.6C292.4 444.7 295.9 444.8 299.2 443.9C302.5 443 307.4 439.8 309 439" fill="none" stroke="#000" stroke-width="2.1" stroke-linecap="round"/>
<path d="M402.2 337.6C403.5 339.2 407.4 343.6 410 347C412.6 350.4 415.8 354.2 418 358C420.2 361.8 422.2 368 423 370" fill="none" stroke="#000" stroke-width="3.4" stroke-linecap="round"/>
<path d="M423 370C423.6 372.3 425.7 378.3 426.5 384C427.3 389.7 427.9 397.8 427.6 404C427.3 410.2 426.3 416 424.5 421C422.7 426 418.2 431.8 417 434" fill="none" stroke="#000" stroke-width="4.8" stroke-linecap="round"/>
<path d="M417.5 431C417.8 432.3 415.1 435.8 413 438C410.9 440.2 407.8 443 405 444.5C402.2 446 398.1 447.2 396 446.8C393.9 446.4 392.5 443.8 392.5 442C392.5 440.2 394.1 437.3 396 436C397.9 434.7 401.5 435 404 434C406.5 433 408.8 430.5 411 430C413.2 429.5 417.2 429.7 417.5 431Z" fill="#000"/>
<circle cx="348.3" cy="388.5" r="8.7" fill="#ececec"/>
<ellipse transform="translate(332.7,376.7) rotate(-40)" rx="7.4" ry="6.4" fill="#dadada"/>
<circle cx="402.7" cy="375.6" r="1.2" fill="#f4f4f4"/>
<circle cx="402.7" cy="380.8" r="1.3" fill="#f4f4f4"/>
<circle cx="406" cy="393.3" r="1.6" fill="#d8d8d8"/>
<circle cx="296" cy="341.5" r="1.3" fill="#ececec"/>
<circle cx="291.6" cy="369.8" r="2.4" fill="#f0f0f0"/>
<circle cx="296.5" cy="378" r="2.3" fill="#e8e8e8"/>
<circle cx="298" cy="383" r="1.7" fill="#e0e0e0"/>
<circle cx="303" cy="372" r="1.6" fill="#d0d0d0"/>
<circle cx="299" cy="392" r="1.4" fill="#dedede"/>
<circle cx="303.5" cy="393.5" r="1.2" fill="#dedede"/>
<circle cx="359" cy="366" r="1.5" fill="#d8d8d8"/>
<circle cx="364" cy="363.5" r="1.3" fill="#d8d8d8"/>
<path d="M329 401.5C331.7 400 337 399.8 341 399.8C345 399.8 350.3 400 353 401.5C355.7 403 356.6 405.9 357.2 409C357.8 412.1 357.4 417.1 356.5 420C355.6 422.9 354.6 425.2 352 426.5C349.4 427.8 344.7 427.8 341 427.8C337.3 427.8 332.6 427.8 330 426.5C327.4 425.2 326.4 422.9 325.5 420C324.6 417.1 324.2 412.1 324.8 409C325.4 405.9 326.3 403 329 401.5Z" fill="#f4f4f4"/>
<ellipse cx="341" cy="431" rx="13.2" ry="9.6" fill="#f1f1f1"/>
<path d="M328 430C325.5 429.8 322.2 434.1 320 435.5C317.8 436.9 315.7 437.4 315 438.2C314.3 439 314.3 440.3 316 440.5C317.7 440.7 322.3 439.3 325 439.5C327.7 439.7 330.3 441.9 332 441.5C333.7 441.1 335.7 438.9 335 437C334.3 435.1 330.5 430.2 328 430Z" fill="#f1f1f1"/>
<path d="M354 430C356.2 429.8 358.1 434 360 435.5C361.9 437 364.8 438 365.5 439C366.2 440 365.6 441.3 364 441.5C362.4 441.7 358.3 439.9 356 440C353.7 440.1 351.5 442.5 350 442C348.5 441.5 346.3 439 347 437C347.7 435 351.8 430.2 354 430Z" fill="#f1f1f1"/>
<path d="M338.9 438 L343.1 438 L342.1 458 L339.9 458Z" fill="#ededed"/>
<ellipse cx="341" cy="412.5" rx="11" ry="8.2" fill="#d2d2d2"/>
<ellipse cx="341" cy="412.5" rx="10.5" ry="8" fill="#fff" filter="url(#ctspeck)" opacity="0.9"/>
<ellipse cx="341" cy="430.3" rx="8.6" ry="5.6" fill="#5c5c5c"/>
</g>
<g filter="url(#ctb03)">
<g transform="translate(257.3,350.2) rotate(-45)"><ellipse rx="6.5" ry="2.8" fill="#f6f6f6"/><ellipse rx="3.6" ry="0.8" fill="#909090"/></g>
<g transform="translate(247.6,375.9) rotate(-78)"><ellipse rx="5.1" ry="2.8" fill="#f6f6f6"/><ellipse rx="2.2" ry="0.8" fill="#909090"/></g>
<ellipse transform="translate(244.6,403.6) rotate(-86)" rx="5.2" ry="2.4" fill="#f8f8f8"/>
<ellipse transform="translate(259.9,433.6) rotate(48)" rx="6" ry="2.4" fill="#f8f8f8"/>
<ellipse transform="translate(293.2,448.7) rotate(8)" rx="6.2" ry="1.7" fill="#f8f8f8"/>
<g transform="translate(423.9,355.4) rotate(55)"><ellipse rx="5.5" ry="3" fill="#f6f6f6"/><ellipse rx="2.6" ry="1" fill="#909090"/></g>
<g transform="translate(431.4,374.3) rotate(76)"><ellipse rx="5.1" ry="2.7" fill="#f6f6f6"/><ellipse rx="2.2" ry="0.7" fill="#909090"/></g>
<g transform="translate(433.8,401.1) rotate(88)"><ellipse rx="4.8" ry="2.7" fill="#f6f6f6"/><ellipse rx="1.9" ry="0.7" fill="#909090"/></g>
<ellipse transform="translate(418.9,434.4) rotate(-42)" rx="5" ry="2.1" fill="#f8f8f8"/>
<ellipse transform="translate(386,449) rotate(-4)" rx="6" ry="1.6" fill="#f8f8f8"/>
</g>
</g>
<text x="243.6" y="322.9" font-family="Liberation Sans, sans-serif" font-size="11.4" fill="#f4f4f4" textLength="29.4" lengthAdjust="spacingAndGlyphs">03/22</text>
<path d="M293.4 331.2 L302.3 340.1 L301 341.4 L306.9 343.4 L304.8 337.5 L303.5 338.9 L294.6 330Z" fill="#0a0a0a"/>
<path d="M273.2 360.8 L285.4 361.2 L285.3 363 L291 360.5 L285.5 357.6 L285.4 359.5 L273.2 359.2Z" fill="#0a0a0a"/>
<path d="M291.1 397.6 L299.9 388.8 L301.2 390.1 L303.2 384.2 L297.3 386.3 L298.7 387.6 L289.9 396.4Z" fill="#0a0a0a"/>
<path d="M315.4 317 L323.2 320.7 L322.3 322.5 L329.2 321.6 L325.6 315.7 L324.7 317.5 L317 313.8Z" fill="none" stroke="#fafafa" stroke-width="1.05" stroke-linejoin="miter"/>
<path d="M361.4 342.5 L356.6 337.6 L358.1 336.2 L351.3 334.7 L352.6 341.5 L354.1 340.1 L358.8 344.9Z" fill="none" stroke="#fafafa" stroke-width="1.05" stroke-linejoin="miter"/>
<path d="M429.3 461.1L439.3 458.4" stroke="#eee" stroke-width="0.9"/>
<clipPath id="bd3"><path d="M541 307.2C549.1 307.5 555 308 561.6 308.8C568.2 309.6 575 310 580.4 311.8C585.8 313.6 590 316.6 594 319.5C598 322.4 601.4 325.6 604.3 328.9C607.1 332.2 608.2 336 611.1 339.1C614 342.2 618.5 344.6 621.4 347.7C624.2 350.8 626.3 354.2 628.2 357.9C630.1 361.6 631.3 365.5 632.6 369.9C633.9 374.2 635.1 378.2 635.9 384C636.6 389.8 637.5 398 637.1 404.4C636.8 410.8 635.8 416.8 633.8 422.2C631.8 427.6 628.6 432.6 624.9 436.7C621.2 440.8 616.8 443.9 611.6 446.7C606.4 449.5 600.8 451.6 593.8 453.3C586.8 455 578.1 455.8 569.3 456.7C560.5 457.6 550.4 458.8 541 459C531.6 459.2 520.9 458.5 512.8 457.8C504.7 457.1 498.8 456.4 492.3 454.9C485.8 453.4 478.7 451.3 473.6 448.9C468.5 446.5 465.2 443.7 461.6 440.3C458 436.9 454.9 432.4 452.2 428.4C449.5 424.4 447.1 421 445.4 416.4C443.7 411.8 442.6 406.4 442 401C441.4 395.6 441.6 389.2 442 384C442.4 378.8 443.2 374.5 444.5 369.9C445.8 365.3 447.7 360.2 449.7 356.2C451.7 352.2 453.9 349.1 456.5 346C459.1 342.9 462.1 340.8 465 337.4C467.9 334 470.5 329.2 473.6 325.5C476.7 321.8 480.4 317.9 483.8 315.2C487.2 312.5 489.2 310.7 494 309.3C498.8 307.9 505 307.4 512.8 307C520.6 306.6 532.9 306.9 541 307.2Z"/></clipPath>
<path d="M541 307.2C549.1 307.5 555 308 561.6 308.8C568.2 309.6 575 310 580.4 311.8C585.8 313.6 590 316.6 594 319.5C598 322.4 601.4 325.6 604.3 328.9C607.1 332.2 608.2 336 611.1 339.1C614 342.2 618.5 344.6 621.4 347.7C624.2 350.8 626.3 354.2 628.2 357.9C630.1 361.6 631.3 365.5 632.6 369.9C633.9 374.2 635.1 378.2 635.9 384C636.6 389.8 637.5 398 637.1 404.4C636.8 410.8 635.8 416.8 633.8 422.2C631.8 427.6 628.6 432.6 624.9 436.7C621.2 440.8 616.8 443.9 611.6 446.7C606.4 449.5 600.8 451.6 593.8 453.3C586.8 455 578.1 455.8 569.3 456.7C560.5 457.6 550.4 458.8 541 459C531.6 459.2 520.9 458.5 512.8 457.8C504.7 457.1 498.8 456.4 492.3 454.9C485.8 453.4 478.7 451.3 473.6 448.9C468.5 446.5 465.2 443.7 461.6 440.3C458 436.9 454.9 432.4 452.2 428.4C449.5 424.4 447.1 421 445.4 416.4C443.7 411.8 442.6 406.4 442 401C441.4 395.6 441.6 389.2 442 384C442.4 378.8 443.2 374.5 444.5 369.9C445.8 365.3 447.7 360.2 449.7 356.2C451.7 352.2 453.9 349.1 456.5 346C459.1 342.9 462.1 340.8 465 337.4C467.9 334 470.5 329.2 473.6 325.5C476.7 321.8 480.4 317.9 483.8 315.2C487.2 312.5 489.2 310.7 494 309.3C498.8 307.9 505 307.4 512.8 307C520.6 306.6 532.9 306.9 541 307.2Z" fill="#a0a0a0" filter="url(#ctb05)"/>
<g clip-path="url(#bd3)">
<path d="M541 307.2C549.1 307.5 555 308 561.6 308.8C568.2 309.6 575 310 580.4 311.8C585.8 313.6 590 316.6 594 319.5C598 322.4 601.4 325.6 604.3 328.9C607.1 332.2 608.2 336 611.1 339.1C614 342.2 618.5 344.6 621.4 347.7C624.2 350.8 626.3 354.2 628.2 357.9C630.1 361.6 631.3 365.5 632.6 369.9C633.9 374.2 635.1 378.2 635.9 384C636.6 389.8 637.5 398 637.1 404.4C636.8 410.8 635.8 416.8 633.8 422.2C631.8 427.6 628.6 432.6 624.9 436.7C621.2 440.8 616.8 443.9 611.6 446.7C606.4 449.5 600.8 451.6 593.8 453.3C586.8 455 578.1 455.8 569.3 456.7C560.5 457.6 550.4 458.8 541 459C531.6 459.2 520.9 458.5 512.8 457.8C504.7 457.1 498.8 456.4 492.3 454.9C485.8 453.4 478.7 451.3 473.6 448.9C468.5 446.5 465.2 443.7 461.6 440.3C458 436.9 454.9 432.4 452.2 428.4C449.5 424.4 447.1 421 445.4 416.4C443.7 411.8 442.6 406.4 442 401C441.4 395.6 441.6 389.2 442 384C442.4 378.8 443.2 374.5 444.5 369.9C445.8 365.3 447.7 360.2 449.7 356.2C451.7 352.2 453.9 349.1 456.5 346C459.1 342.9 462.1 340.8 465 337.4C467.9 334 470.5 329.2 473.6 325.5C476.7 321.8 480.4 317.9 483.8 315.2C487.2 312.5 489.2 310.7 494 309.3C498.8 307.9 505 307.4 512.8 307C520.6 306.6 532.9 306.9 541 307.2Z" fill="#bbbbbb"/>
<g filter="url(#ctb1)">
<path d="M463 438C466.7 435.3 473.8 444.5 480 446C486.2 447.5 494.7 448.5 500 447C505.3 445.5 508.8 441.3 512 437C515.2 432.7 517.3 426.5 519 421C520.7 415.5 521.2 408.3 522 404C522.8 399.7 522.8 397.1 524 395C525.2 392.9 527.1 391.7 529.5 391.5C531.9 391.3 535.3 393.1 538.5 394C541.7 394.9 545.3 397.1 548.5 397C551.7 396.9 555.1 393.3 557.5 393.5C559.9 393.7 561.2 395.2 563 398C564.8 400.8 566 405 568 410C570 415 572 422.8 575 428C578 433.2 581.8 437.5 586 441C590.2 444.5 598 445.5 600 449C602 452.5 621.7 459.8 598 462C574.3 464.2 480.5 466 458 462C435.5 458 459.3 440.7 463 438Z" fill="#7e7e7e"/>
<path d="M570 406C571.8 403.3 579.3 402.3 584 401C588.7 399.7 593.3 399.2 598 398C602.7 396.8 608.2 396 612 394C615.8 392 618.8 389.3 621 386C623.2 382.7 623.6 374 625 374C626.4 374 628.6 380.9 629.5 386C630.4 391.1 630.9 398.7 630.5 404.4C630.1 410.1 628.9 415.7 627 420C625.1 424.3 622.5 427 619 430C615.5 433 610.2 436.7 606 438C601.8 439.3 598 439.3 594 438C590 436.7 585.4 433.5 582 430C578.6 426.5 575.5 421 573.5 417C571.5 413 568.2 408.7 570 406Z" fill="#bebebe"/>
<path d="M558 388C559.2 385.3 562.8 386.2 564.5 388C566.2 389.8 566.9 395.4 568 399C569.1 402.6 570.2 406.1 571 409.6C571.8 413.1 571.3 416.2 573 420C574.7 423.8 578 429.1 581 432.3C584 435.6 587.7 437.5 591 439.5C594.3 441.5 600 442.6 601 444.5C602 446.4 599.8 450.1 597 451C594.2 451.9 587.7 450.6 584 450C580.3 449.4 578 449.8 574.7 447.4C571.4 444.9 566.6 439.8 564.1 435.3C561.6 430.8 560.7 425.4 559.6 420.2C558.5 415 557.8 409.4 557.5 404C557.2 398.6 556.8 390.7 558 388Z" fill="#5a5a5a"/>
<path d="M526 384C525.5 386.3 523.8 393.3 523 398C522.2 402.7 522 407.3 521 412C520 416.7 517.7 423.7 517 426" fill="none" stroke="#6a6a6a" stroke-width="3" stroke-linecap="round"/>
<path d="M612.4 383C612.6 387 611 392.2 607.7 395.3C604.3 398.4 597.8 400.6 592.3 401.3C586.9 402.1 579.8 401.7 575 399.7C570.2 397.8 565.1 393.4 563.6 389.6C562 385.8 563.6 380.6 565.7 377C567.8 373.3 571.7 370.1 576.2 367.8C580.7 365.5 587.6 362.7 592.7 363.3C597.8 363.9 603.5 368 606.8 371.3C610.1 374.5 612.3 379 612.4 383Z" fill="#858585"/>
<path d="M611.5 383C611.6 386.8 610.1 391.8 606.9 394.7C603.7 397.5 597.4 399.7 592.2 400.4C586.9 401.1 580.2 400.7 575.5 398.8C570.9 397 566 392.9 564.5 389.3C563 385.7 564.5 380.7 566.6 377.3C568.6 373.8 572.4 370.8 576.7 368.6C581 366.5 587.6 363.8 592.5 364.3C597.4 364.9 602.9 368.8 606 371.9C609.2 375 611.3 379.2 611.5 383Z" fill="#a3a3a3"/>
<path d="M591.4 372C591 373.2 590 374.2 588.8 375C587.6 375.7 586.1 375.8 584.2 376.3C582.4 376.8 579.1 378.3 577.4 377.9C575.7 377.6 574.8 375.3 574.1 374C573.5 372.6 572.9 371.1 573.6 369.9C574.3 368.8 576.5 367.6 578.4 367.1C580.2 366.6 582.4 366.8 584.5 367C586.5 367.1 589.7 367.1 590.9 368C592 368.8 591.7 370.8 591.4 372Z" fill="#8b8b8b"/>
<path d="M528 360C527.9 362.8 527.3 365.8 525.7 368.3C524.1 370.8 521.4 373.8 518.2 374.9C515 376.1 509.1 376.9 506.5 375.1C503.9 373.4 503.4 367.7 502.8 364.5C502.2 361.2 502.1 358.3 503 355.6C503.9 352.8 505.7 350.2 508.4 348C511 345.8 515.8 341.6 518.7 342.2C521.7 342.8 524.4 348.6 525.9 351.5C527.5 354.5 528 357.2 528 360Z" fill="#8c8c8c"/>
<path d="M509.7 352C509.5 353.3 509.6 354.4 508.9 355.3C508.3 356.2 507.2 356.8 505.9 357.3C504.7 357.8 502.5 358.8 501.4 358.2C500.3 357.7 499.8 355.5 499.4 354C498.9 352.6 498.2 350.8 498.7 349.7C499.3 348.7 501.4 348.5 502.6 347.8C503.8 347.2 504.7 346.1 506 346.1C507.3 346 509.8 346.5 510.4 347.5C511 348.5 510 350.7 509.7 352Z" fill="#929292"/>
<path d="M534.2 349C534.2 350.4 533.7 352 532.7 353.1C531.7 354.3 529.9 355.8 528.4 355.8C526.9 355.9 525.3 354.4 523.9 353.6C522.5 352.8 520.7 352.4 519.9 351.2C519.1 350 518.7 348 519.1 346.5C519.6 345.1 521.3 343.2 522.8 342.7C524.3 342.3 526.4 343.7 528 344C529.7 344.4 531.7 344 532.8 344.9C533.8 345.7 534.3 347.6 534.2 349Z" fill="#949494"/>
<path d="M580.2 331.5C580.4 333.9 579.2 337 577.5 339.2C575.8 341.4 573 344.1 570 344.8C567.1 345.5 562.8 344.9 560 343.4C557.2 342 554.1 338.8 553.5 336.2C552.9 333.6 555.5 330.6 556.5 327.8C557.6 325 557.7 320.5 559.8 319.3C562 318.1 566.9 319.7 569.6 320.6C572.3 321.5 574.4 323 576.1 324.8C577.9 326.6 580 329.1 580.2 331.5Z" fill="#989898"/>
<path d="M572.7 330C572.7 331.3 572.5 333 571.6 334C570.7 335 568.8 335.8 567.3 336.1C565.7 336.4 563.3 336.4 562.2 335.6C561 334.9 561.2 333 560.5 331.7C559.9 330.4 558.1 328.8 558.5 327.7C558.8 326.6 561.2 325.7 562.6 325.1C564.1 324.5 565.8 323.8 567.3 323.9C568.8 324.1 570.7 325 571.6 326C572.5 327 572.7 328.7 572.7 330Z" fill="#8e8e8e"/>
<path d="M548.3 322C548.7 324 549.5 327.4 548.6 329.2C547.7 331 544.8 332.5 542.7 332.9C540.6 333.3 537.9 332.7 536.2 331.4C534.4 330.2 533.1 327.7 532.4 325.5C531.7 323.3 531.1 319.9 532.1 318.3C533 316.8 536.3 317.1 538 316.2C539.7 315.2 541.1 312.4 542.5 312.6C543.9 312.7 545.4 315.4 546.4 316.9C547.3 318.5 547.9 320 548.3 322Z" fill="#969696"/>
<path d="M561.8 352C561.6 353.2 558.8 354 557.5 355.1C556.1 356.1 555.4 357.8 553.7 358.3C551.9 358.8 548.7 358.7 546.7 358.1C544.8 357.4 542.7 355.8 542.1 354.4C541.6 353 542.6 351.3 543.5 349.9C544.3 348.6 545.5 347 547.2 346.5C548.9 345.9 551.5 346.2 553.5 346.5C555.4 346.7 557.6 347.2 559 348.1C560.4 349 562.1 350.8 561.8 352Z" fill="#a6a6a6"/>
<path d="M551.3 340C551.4 340.8 550.4 341.7 549.7 342.5C549 343.2 547.9 344.3 547 344.4C546 344.4 545.1 343.2 544 342.7C543 342.2 541.2 342.2 540.8 341.5C540.4 340.8 541.2 339.6 541.6 338.7C542 337.9 542.5 336.7 543.4 336.3C544.2 336 545.7 336.5 546.7 336.7C547.8 336.9 548.8 337.1 549.5 337.6C550.3 338.2 551.3 339.2 551.3 340Z" fill="#a0a0a0"/>
<ellipse cx="547.6" cy="388.9" rx="10.8" ry="10.6" fill="#909090"/>
</g>
<path d="M541 307.2C549.1 307.5 555 308 561.6 308.8C568.2 309.6 575 310 580.4 311.8C585.8 313.6 590 316.6 594 319.5C598 322.4 601.4 325.6 604.3 328.9C607.1 332.2 608.2 336 611.1 339.1C614 342.2 618.5 344.6 621.4 347.7C624.2 350.8 626.3 354.2 628.2 357.9C630.1 361.6 631.3 365.5 632.6 369.9C633.9 374.2 635.1 378.2 635.9 384C636.6 389.8 637.5 398 637.1 404.4C636.8 410.8 635.8 416.8 633.8 422.2C631.8 427.6 628.6 432.6 624.9 436.7C621.2 440.8 616.8 443.9 611.6 446.7C606.4 449.5 600.8 451.6 593.8 453.3C586.8 455 578.1 455.8 569.3 456.7C560.5 457.6 550.4 458.8 541 459C531.6 459.2 520.9 458.5 512.8 457.8C504.7 457.1 498.8 456.4 492.3 454.9C485.8 453.4 478.7 451.3 473.6 448.9C468.5 446.5 465.2 443.7 461.6 440.3C458 436.9 454.9 432.4 452.2 428.4C449.5 424.4 447.1 421 445.4 416.4C443.7 411.8 442.6 406.4 442 401C441.4 395.6 441.6 389.2 442 384C442.4 378.8 443.2 374.5 444.5 369.9C445.8 365.3 447.7 360.2 449.7 356.2C451.7 352.2 453.9 349.1 456.5 346C459.1 342.9 462.1 340.8 465 337.4C467.9 334 470.5 329.2 473.6 325.5C476.7 321.8 480.4 317.9 483.8 315.2C487.2 312.5 489.2 310.7 494 309.3C498.8 307.9 505 307.4 512.8 307C520.6 306.6 532.9 306.9 541 307.2Z" fill="#000" filter="url(#ctnoise)" opacity="0.24"/>
<path d="M541 307.2C549.1 307.5 555 308 561.6 308.8C568.2 309.6 575 310 580.4 311.8C585.8 313.6 590 316.6 594 319.5C598 322.4 601.4 325.6 604.3 328.9C607.1 332.2 608.2 336 611.1 339.1C614 342.2 618.5 344.6 621.4 347.7C624.2 350.8 626.3 354.2 628.2 357.9C630.1 361.6 631.3 365.5 632.6 369.9C633.9 374.2 635.1 378.2 635.9 384C636.6 389.8 637.5 398 637.1 404.4C636.8 410.8 635.8 416.8 633.8 422.2C631.8 427.6 628.6 432.6 624.9 436.7C621.2 440.8 616.8 443.9 611.6 446.7C606.4 449.5 600.8 451.6 593.8 453.3C586.8 455 578.1 455.8 569.3 456.7C560.5 457.6 550.4 458.8 541 459C531.6 459.2 520.9 458.5 512.8 457.8C504.7 457.1 498.8 456.4 492.3 454.9C485.8 453.4 478.7 451.3 473.6 448.9C468.5 446.5 465.2 443.7 461.6 440.3C458 436.9 454.9 432.4 452.2 428.4C449.5 424.4 447.1 421 445.4 416.4C443.7 411.8 442.6 406.4 442 401C441.4 395.6 441.6 389.2 442 384C442.4 378.8 443.2 374.5 444.5 369.9C445.8 365.3 447.7 360.2 449.7 356.2C451.7 352.2 453.9 349.1 456.5 346C459.1 342.9 462.1 340.8 465 337.4C467.9 334 470.5 329.2 473.6 325.5C476.7 321.8 480.4 317.9 483.8 315.2C487.2 312.5 489.2 310.7 494 309.3C498.8 307.9 505 307.4 512.8 307C520.6 306.6 532.9 306.9 541 307.2Z" fill="#fff" filter="url(#ctnoise2)" opacity="0.17"/>
<g filter="url(#ctb05)">
<path d="M541 307.2C549.1 307.5 555 308 561.6 308.8C568.2 309.6 575 310 580.4 311.8C585.8 313.6 590 316.6 594 319.5C598 322.4 601.4 325.6 604.3 328.9C607.1 332.2 608.2 336 611.1 339.1C614 342.2 618.5 344.6 621.4 347.7C624.2 350.8 626.3 354.2 628.2 357.9C630.1 361.6 631.3 365.5 632.6 369.9C633.9 374.2 635.1 378.2 635.9 384C636.6 389.8 637.5 398 637.1 404.4C636.8 410.8 635.8 416.8 633.8 422.2C631.8 427.6 628.6 432.6 624.9 436.7C621.2 440.8 616.8 443.9 611.6 446.7C606.4 449.5 600.8 451.6 593.8 453.3C586.8 455 578.1 455.8 569.3 456.7C560.5 457.6 550.4 458.8 541 459C531.6 459.2 520.9 458.5 512.8 457.8C504.7 457.1 498.8 456.4 492.3 454.9C485.8 453.4 478.7 451.3 473.6 448.9C468.5 446.5 465.2 443.7 461.6 440.3C458 436.9 454.9 432.4 452.2 428.4C449.5 424.4 447.1 421 445.4 416.4C443.7 411.8 442.6 406.4 442 401C441.4 395.6 441.6 389.2 442 384C442.4 378.8 443.2 374.5 444.5 369.9C445.8 365.3 447.7 360.2 449.7 356.2C451.7 352.2 453.9 349.1 456.5 346C459.1 342.9 462.1 340.8 465 337.4C467.9 334 470.5 329.2 473.6 325.5C476.7 321.8 480.4 317.9 483.8 315.2C487.2 312.5 489.2 310.7 494 309.3C498.8 307.9 505 307.4 512.8 307C520.6 306.6 532.9 306.9 541 307.2Z" fill="none" stroke="#a0a0a0" stroke-width="6"/>
<path d="M459 347C460.3 345.6 464.2 341.8 467 338.5C469.8 335.2 472.4 330.7 475.5 327C478.6 323.3 482.1 319.2 485.5 316.5C488.9 313.8 490.9 312.2 496 311C501.1 309.8 508.5 309.7 516 309.5C523.5 309.3 533.2 309.4 541 309.7C548.8 310 556.3 310.5 563 311.3C569.7 312.1 575.9 312.8 581 314.5C586.1 316.2 589.8 318.9 593.5 321.5C597.2 324.1 600.3 326.9 603 330C605.7 333.1 608.4 338.3 609.5 340" fill="none" stroke="#979797" stroke-width="6.4" stroke-linecap="round"/>
<path d="M492 453.5C495.3 454 503.8 455.8 512 456.5C520.2 457.2 531 457.6 541 457.5C551 457.4 563.5 456.8 572 456C580.5 455.2 588.7 453.5 592 453" fill="none" stroke="#969696" stroke-width="9" stroke-linecap="butt"/>
<path d="M613.2 365.4C613.8 367 614.5 368.9 614.1 370.4C613.8 371.8 612.3 373 611.1 374C609.9 374.9 608.2 376.4 606.8 376.2C605.4 376.1 603.8 374.3 602.7 373C601.5 371.7 600.4 370.3 600.1 368.6C599.7 367 599.8 364.5 600.6 363.3C601.5 362 603.6 361.5 605.2 361.1C606.8 360.7 609 360 610.3 360.8C611.6 361.5 612.5 363.8 613.2 365.4Z" fill="#000"/>
<path d="M587.5 373.5C587.1 374.1 584.3 374 583.4 374.5C582.6 375 583 376.4 582.4 376.6C581.7 376.8 580.5 376 579.4 375.7C578.4 375.4 576.2 375.2 576 374.7C575.7 374.2 577.4 373.4 577.9 372.7C578.3 372 577.9 370.6 578.6 370.4C579.3 370.2 580.7 371.6 582 371.7C583.3 371.8 585.2 370.8 586.2 371.1C587.1 371.4 588 372.9 587.5 373.5Z" fill="#1a1a1a"/>
<path d="M579.4 376.2C579.4 376.7 579.6 377.4 579.2 377.7C578.9 378 578 377.9 577.4 377.9C576.8 378 576.2 378.2 575.7 378C575.2 377.9 574.3 377.4 574.2 377C574.1 376.6 574.7 376 574.9 375.6C575.1 375.1 575.3 374.6 575.7 374.3C576.1 374.1 576.9 374 577.5 374.1C578 374.2 578.8 374.4 579.2 374.7C579.5 375.1 579.4 375.7 579.4 376.2Z" fill="#222"/>
<circle cx="596" cy="369.3" r="1.1" fill="#111"/><circle cx="590.5" cy="367" r="0.8" fill="#222"/>
<path d="M448.2 414.5C449.1 416.6 451.2 423.2 453.5 427C455.8 430.8 458.9 434.7 462 437.5C465.1 440.3 468 442.4 472 444C476 445.6 481.2 446.6 486 446.8C490.8 447.1 496.8 446.6 501 445.5C505.2 444.4 508.7 442 511 440.5C513.3 439 514.3 437.2 515 436.5" fill="none" stroke="#000" stroke-width="3.6" stroke-linecap="round"/>
<path d="M604.3 337.4C605.6 339 609.5 343.7 612 347C614.5 350.3 616.9 353.2 619 357C621.1 360.8 623.6 367.8 624.5 370" fill="none" stroke="#000" stroke-width="1.1" stroke-linecap="round"/>
<path d="M624.5 370C625.1 372.3 627.5 378.3 628.3 384C629.1 389.7 629.7 398.2 629.4 404C629.1 409.8 627.9 414.8 626.5 419C625.1 423.2 621.9 427.3 621 429" fill="none" stroke="#000" stroke-width="2.2" stroke-linecap="round"/>
<path d="M622.7 426.5C623 427.8 621 431.6 619 434C617 436.4 613.8 439.1 611 441C608.2 442.9 604.1 445.5 602 445.6C599.9 445.7 598.2 443.3 598.2 441.5C598.2 439.7 600 436.7 602 435C604 433.3 607.5 432.9 610 431.5C612.5 430.1 614.9 427.3 617 426.5C619.1 425.7 622.4 425.2 622.7 426.5Z" fill="#000"/>
<circle cx="547.6" cy="388.9" r="8.6" fill="#ececec"/>
<ellipse transform="translate(531.6,375.6) rotate(-40)" rx="7.2" ry="6.2" fill="#c4c4c4"/>
<circle cx="497.5" cy="369.5" r="1.8" fill="#dcdcdc"/>
<circle cx="500.5" cy="372.5" r="1.5" fill="#dcdcdc"/>
<circle cx="505.5" cy="378.5" r="1.5" fill="#d8d8d8"/>
<circle cx="490" cy="391.5" r="1.3" fill="#d6d6d6"/>
<circle cx="505" cy="392" r="1.4" fill="#d6d6d6"/>
<circle cx="495" cy="343" r="1.0" fill="#dcdcdc"/>
<circle cx="606.5" cy="374.8" r="1.0" fill="#f0f0f0"/>
<circle cx="590" cy="392.5" r="1.3" fill="#dcdcdc"/>
<circle cx="560" cy="366" r="1.2" fill="#d4d4d4"/>
<path d="M529 402C531.7 400.5 537 400.3 541 400.3C545 400.3 550.3 400.5 553 402C555.7 403.5 556.6 406.4 557.2 409.5C557.8 412.6 557.4 417.6 556.5 420.5C555.6 423.4 554.6 425.7 552 427C549.4 428.3 544.7 428.3 541 428.3C537.3 428.3 532.6 428.3 530 427C527.4 425.7 526.4 423.4 525.5 420.5C524.6 417.6 524.2 412.6 524.8 409.5C525.4 406.4 526.3 403.5 529 402Z" fill="#f4f4f4"/>
<ellipse cx="541" cy="431.5" rx="13.2" ry="9.6" fill="#f1f1f1"/>
<path d="M528 430C525.7 429.7 523 433.8 521 435C519 436.2 516.7 436.7 516 437.5C515.3 438.3 515.3 439.8 517 440C518.7 440.2 523.5 438.7 526 439C528.5 439.3 530.5 442.3 532 442C533.5 441.7 535.7 439 535 437C534.3 435 530.3 430.3 528 430Z" fill="#f1f1f1"/>
<path d="M554 430C556.2 429.8 557.8 433.9 560 435.5C562.2 437.1 566.1 438.4 567 439.5C567.9 440.6 567.3 441.9 565.5 442C563.7 442.1 558.6 439.9 556 440C553.4 440.1 551.5 443 550 442.5C548.5 442 546.3 439.1 547 437C547.7 434.9 551.8 430.2 554 430Z" fill="#f1f1f1"/>
<path d="M538.9 438.5 L543.1 438.5 L542.1 458 L539.9 458Z" fill="#ededed"/>
<ellipse cx="541" cy="413.0" rx="11" ry="8.2" fill="#d2d2d2"/>
<ellipse cx="541" cy="413.0" rx="10.5" ry="8" fill="#fff" filter="url(#ctspeck)" opacity="0.9"/>
<ellipse cx="541" cy="430.8" rx="8.6" ry="5.6" fill="#5c5c5c"/>
</g>
<g filter="url(#ctb03)">
<g transform="translate(455.1,352) rotate(-50)"><ellipse rx="6.5" ry="2.7" fill="#f6f6f6"/><ellipse rx="3.6" ry="0.7" fill="#909090"/></g>
<g transform="translate(445.9,379.3) rotate(-80)"><ellipse rx="4.8" ry="2.8" fill="#f6f6f6"/><ellipse rx="1.9" ry="0.8" fill="#909090"/></g>
<ellipse transform="translate(446,409.6) rotate(-84)" rx="6" ry="2.4" fill="#f8f8f8"/>
<ellipse transform="translate(463.3,437.9) rotate(42)" rx="6" ry="2.4" fill="#f8f8f8"/>
<ellipse transform="translate(497.5,449.1) rotate(8)" rx="6.2" ry="1.7" fill="#f8f8f8"/>
<ellipse transform="translate(597.5,325.7) rotate(36)" rx="3.5" ry="1.4" fill="#f8f8f8"/>
<g transform="translate(620.5,352.8) rotate(52)"><ellipse rx="5.8" ry="3" fill="#f6f6f6"/><ellipse rx="2.9" ry="1" fill="#909090"/></g>
<g transform="translate(629.5,371.9) rotate(76)"><ellipse rx="5" ry="2.8" fill="#f6f6f6"/><ellipse rx="2.1" ry="0.8" fill="#909090"/></g>
<g transform="translate(633.6,397.8) rotate(88)"><ellipse rx="5.1" ry="2.8" fill="#f6f6f6"/><ellipse rx="2.2" ry="0.8" fill="#909090"/></g>
<ellipse transform="translate(620.4,432.2) rotate(-45)" rx="5" ry="2.1" fill="#f8f8f8"/>
<ellipse transform="translate(587.1,449) rotate(-4)" rx="6.5" ry="1.6" fill="#f8f8f8"/>
</g>
</g>
<text x="441.8" y="322.4" font-family="Liberation Sans, sans-serif" font-size="11.4" fill="#f4f4f4" textLength="30" lengthAdjust="spacingAndGlyphs">04/22</text>
<path d="M492.1 329.5 L500.5 337.9 L499.2 339.2 L505.1 341.2 L503 335.3 L501.7 336.7 L493.3 328.3Z" fill="#0a0a0a"/>
<path d="M474.9 360.8 L486.9 361.2 L486.8 363 L492.5 360.5 L487 357.6 L486.9 359.5 L474.9 359.2Z" fill="#0a0a0a"/>
<path d="M494.6 397.1 L503.1 388.6 L504.4 389.9 L506.5 384 L500.6 386.1 L501.9 387.4 L493.4 395.9Z" fill="#0a0a0a"/>
<path d="M514.6 317 L522.4 320.7 L521.5 322.5 L528.4 321.6 L524.8 315.7 L523.9 317.5 L516.2 313.8Z" fill="none" stroke="#fafafa" stroke-width="1.05" stroke-linejoin="miter"/>
<path d="M558.7 341.6 L553.1 335.9 L554.6 334.4 L547.8 333 L549.2 339.8 L550.6 338.4 L556.3 344Z" fill="none" stroke="#fafafa" stroke-width="1.05" stroke-linejoin="miter"/>
<path d="M631 462.5L638.8 458.3" stroke="#eee" stroke-width="0.9"/>
</g></g>
</svg></body></html>
